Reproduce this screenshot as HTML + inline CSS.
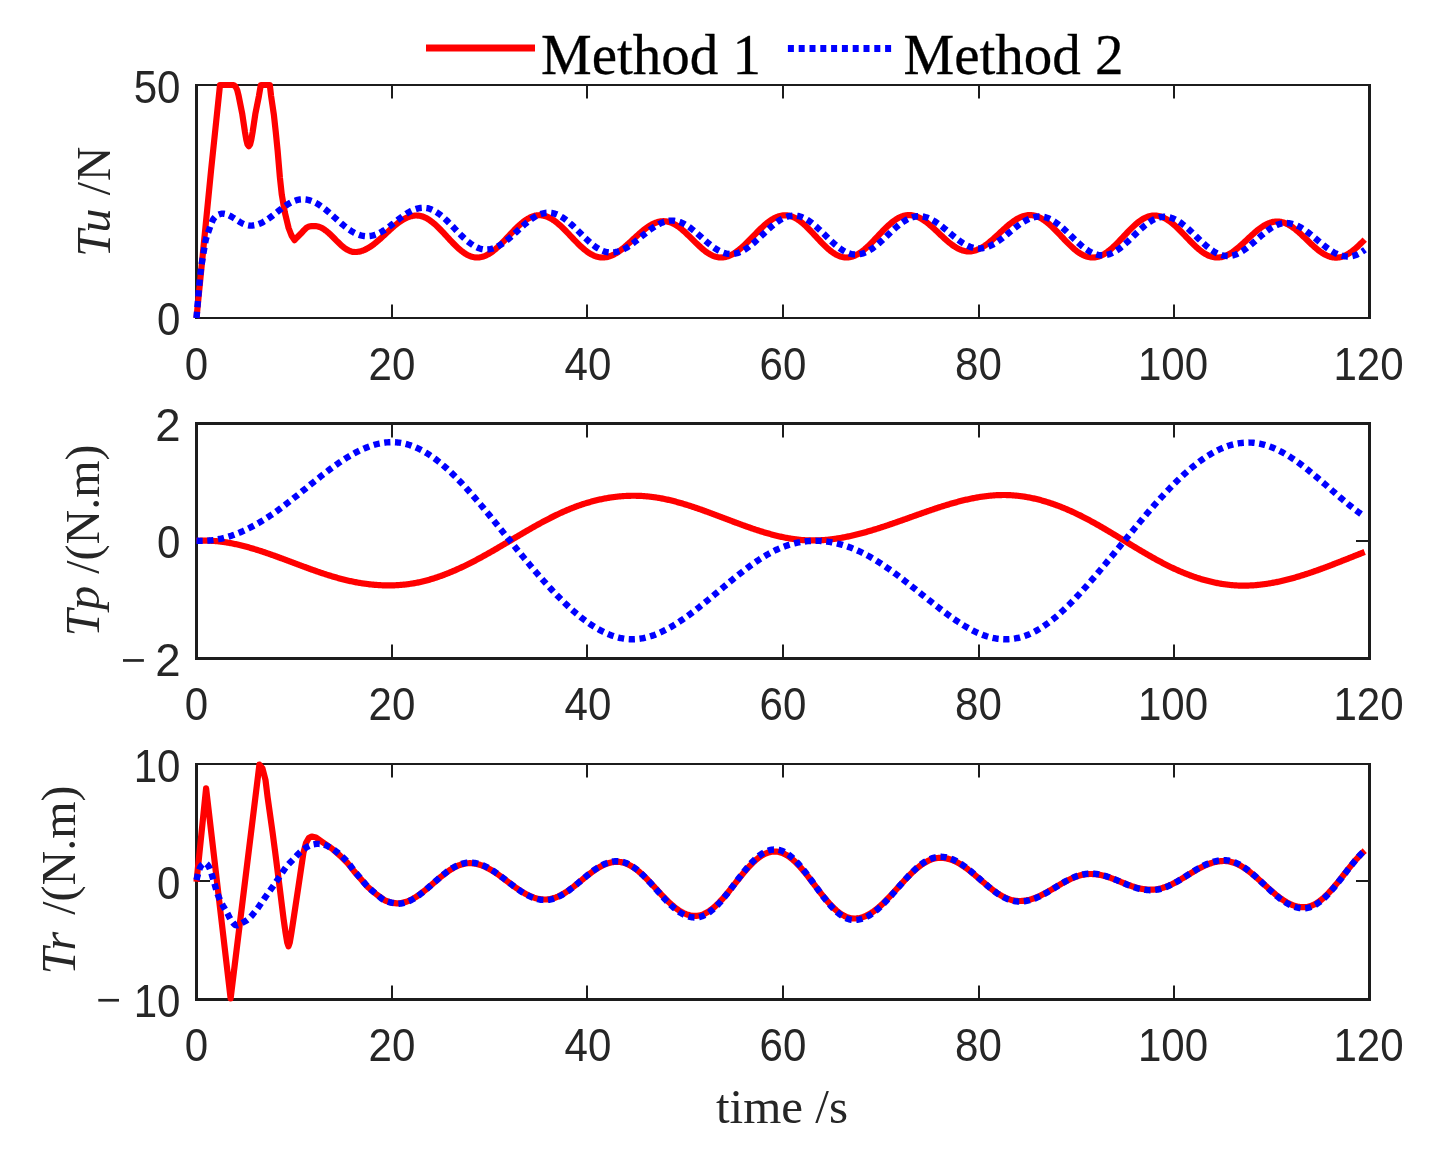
<!DOCTYPE html><html><head><meta charset="utf-8"><style>html,body{margin:0;padding:0;background:#fff;width:1440px;height:1149px;overflow:hidden}svg{display:block;will-change:transform}</style></head><body><svg width="1440" height="1149" viewBox="0 0 1440 1149"><rect width="1440" height="1149" fill="#fff"/><rect x="195" y="84" width="1176" height="2" fill="#1c1c1c"/><rect x="195" y="317" width="1176" height="2" fill="#1c1c1c"/><rect x="195" y="84" width="3" height="235" fill="#1c1c1c"/><rect x="1368" y="84" width="3" height="235" fill="#1c1c1c"/><rect x="391" y="84" width="2" height="14.5" fill="#1c1c1c"/><rect x="391" y="304.5" width="2" height="14.5" fill="#1c1c1c"/><rect x="586" y="84" width="2" height="14.5" fill="#1c1c1c"/><rect x="586" y="304.5" width="2" height="14.5" fill="#1c1c1c"/><rect x="782" y="84" width="2" height="14.5" fill="#1c1c1c"/><rect x="782" y="304.5" width="2" height="14.5" fill="#1c1c1c"/><rect x="978" y="84" width="2" height="14.5" fill="#1c1c1c"/><rect x="978" y="304.5" width="2" height="14.5" fill="#1c1c1c"/><rect x="1173" y="84" width="2" height="14.5" fill="#1c1c1c"/><rect x="1173" y="304.5" width="2" height="14.5" fill="#1c1c1c"/><rect x="195" y="422" width="1176" height="3" fill="#1c1c1c"/><rect x="195" y="657" width="1176" height="3" fill="#1c1c1c"/><rect x="195" y="422" width="3" height="238" fill="#1c1c1c"/><rect x="1368" y="422" width="3" height="238" fill="#1c1c1c"/><rect x="391" y="422" width="2" height="15.5" fill="#1c1c1c"/><rect x="391" y="644.5" width="2" height="15.5" fill="#1c1c1c"/><rect x="586" y="422" width="2" height="15.5" fill="#1c1c1c"/><rect x="586" y="644.5" width="2" height="15.5" fill="#1c1c1c"/><rect x="782" y="422" width="2" height="15.5" fill="#1c1c1c"/><rect x="782" y="644.5" width="2" height="15.5" fill="#1c1c1c"/><rect x="978" y="422" width="2" height="15.5" fill="#1c1c1c"/><rect x="978" y="644.5" width="2" height="15.5" fill="#1c1c1c"/><rect x="1173" y="422" width="2" height="15.5" fill="#1c1c1c"/><rect x="1173" y="644.5" width="2" height="15.5" fill="#1c1c1c"/><rect x="195" y="540" width="15" height="2" fill="#1c1c1c"/><rect x="1356" y="540" width="15" height="2" fill="#1c1c1c"/><rect x="195" y="763" width="1176" height="2" fill="#1c1c1c"/><rect x="195" y="998" width="1176" height="3" fill="#1c1c1c"/><rect x="195" y="763" width="3" height="238" fill="#1c1c1c"/><rect x="1368" y="763" width="3" height="238" fill="#1c1c1c"/><rect x="391" y="763" width="2" height="14.5" fill="#1c1c1c"/><rect x="391" y="985.5" width="2" height="15.5" fill="#1c1c1c"/><rect x="586" y="763" width="2" height="14.5" fill="#1c1c1c"/><rect x="586" y="985.5" width="2" height="15.5" fill="#1c1c1c"/><rect x="782" y="763" width="2" height="14.5" fill="#1c1c1c"/><rect x="782" y="985.5" width="2" height="15.5" fill="#1c1c1c"/><rect x="978" y="763" width="2" height="14.5" fill="#1c1c1c"/><rect x="978" y="985.5" width="2" height="15.5" fill="#1c1c1c"/><rect x="1173" y="763" width="2" height="14.5" fill="#1c1c1c"/><rect x="1173" y="985.5" width="2" height="15.5" fill="#1c1c1c"/><rect x="195" y="880" width="15" height="2" fill="#1c1c1c"/><rect x="1356" y="880" width="15" height="2" fill="#1c1c1c"/><path d="M196.50 318.00 L211.10 170.00 L220.00 85.00 L233.50 85.00 L235.50 86.50 L237.20 90.00 L238.70 96.10 L242.30 114.20 L245.00 132.30 L246.30 139.80 L247.50 144.50 L248.80 146.30 L250.10 144.50 L251.30 139.80 L252.60 132.30 L255.30 114.20 L258.90 96.10 L260.80 85.00 L269.80 85.00 L271.10 96.10 L273.80 114.20 L275.80 132.30 L277.60 150.40 L279.90 177.50 L281.80 194.80 L284.80 212.20 L288.60 228.00 L291.50 235.50 L294.50 240.20 L297.00 237.50 L301.20 233.30 L304.00 230.20 L306.50 227.80 L309.00 226.50 L311.50 226.10 L314.80 226.10 L315.81 226.14 L316.81 226.26 L317.81 226.46 L318.82 226.73 L319.82 227.09 L320.83 227.51 L321.84 228.01 L322.84 228.57 L323.85 229.20 L324.85 229.89 L325.86 230.64 L326.86 231.44 L327.87 232.28 L328.87 233.17 L329.88 234.09 L330.88 235.05 L331.88 236.03 L332.89 237.02 L333.89 238.03 L334.90 239.05 L335.91 240.07 L336.91 241.08 L337.92 242.07 L338.92 243.05 L339.93 244.01 L340.93 244.93 L341.94 245.82 L342.94 246.66 L343.94 247.46 L344.95 248.21 L345.95 248.90 L346.96 249.53 L347.97 250.09 L348.97 250.59 L349.98 251.01 L350.98 251.37 L351.99 251.64 L352.99 251.84 L354.00 251.96 L355.00 252.00 L356.01 251.98 L357.02 251.90 L358.02 251.78 L359.03 251.61 L360.04 251.40 L361.05 251.14 L362.06 250.83 L363.07 250.47 L364.07 250.07 L365.08 249.63 L366.09 249.15 L367.10 248.62 L368.11 248.06 L369.11 247.46 L370.12 246.82 L371.13 246.15 L372.14 245.44 L373.15 244.70 L374.16 243.94 L375.16 243.14 L376.17 242.33 L377.18 241.49 L378.19 240.63 L379.20 239.75 L380.20 238.85 L381.21 237.94 L382.22 237.02 L383.23 236.09 L384.24 235.16 L385.25 234.22 L386.25 233.28 L387.26 232.34 L388.27 231.41 L389.28 230.48 L390.29 229.56 L391.30 228.65 L392.30 227.75 L393.31 226.87 L394.32 226.01 L395.33 225.17 L396.34 224.36 L397.34 223.56 L398.35 222.80 L399.36 222.06 L400.37 221.35 L401.38 220.68 L402.39 220.04 L403.39 219.44 L404.40 218.88 L405.41 218.35 L406.42 217.87 L407.43 217.43 L408.43 217.03 L409.44 216.67 L410.45 216.36 L411.46 216.10 L412.47 215.89 L413.48 215.72 L414.48 215.60 L415.49 215.52 L416.50 215.50 L417.51 215.53 L418.52 215.62 L419.54 215.76 L420.55 215.96 L421.56 216.22 L422.57 216.53 L423.58 216.89 L424.59 217.32 L425.61 217.79 L426.62 218.31 L427.63 218.89 L428.64 219.51 L429.65 220.18 L430.66 220.89 L431.68 221.65 L432.69 222.45 L433.70 223.28 L434.71 224.16 L435.72 225.06 L436.73 226.00 L437.75 226.97 L438.76 227.96 L439.77 228.97 L440.78 230.01 L441.79 231.06 L442.80 232.13 L443.81 233.21 L444.83 234.30 L445.84 235.40 L446.85 236.50 L447.86 237.60 L448.87 238.70 L449.88 239.79 L450.90 240.87 L451.91 241.94 L452.92 242.99 L453.93 244.03 L454.94 245.04 L455.95 246.03 L456.97 247.00 L457.98 247.94 L458.99 248.84 L460.00 249.72 L461.01 250.55 L462.02 251.35 L463.04 252.11 L464.05 252.82 L465.06 253.49 L466.07 254.11 L467.08 254.69 L468.09 255.21 L469.11 255.68 L470.12 256.11 L471.13 256.47 L472.14 256.78 L473.15 257.04 L474.16 257.24 L475.18 257.38 L476.19 257.47 L477.20 257.50 L478.20 257.47 L479.21 257.39 L480.21 257.26 L481.22 257.07 L482.22 256.82 L483.23 256.53 L484.23 256.18 L485.24 255.79 L486.24 255.34 L487.25 254.84 L488.25 254.30 L489.26 253.71 L490.26 253.07 L491.27 252.40 L492.27 251.68 L493.28 250.92 L494.28 250.13 L495.29 249.30 L496.29 248.43 L497.30 247.54 L498.30 246.61 L499.31 245.66 L500.31 244.69 L501.32 243.70 L502.32 242.68 L503.33 241.65 L504.33 240.61 L505.34 239.55 L506.34 238.49 L507.35 237.42 L508.35 236.35 L509.35 235.28 L510.36 234.21 L511.36 233.15 L512.37 232.09 L513.37 231.05 L514.38 230.02 L515.38 229.00 L516.39 228.01 L517.39 227.04 L518.40 226.09 L519.40 225.16 L520.41 224.27 L521.41 223.40 L522.42 222.57 L523.42 221.78 L524.43 221.02 L525.43 220.30 L526.44 219.63 L527.44 218.99 L528.45 218.40 L529.45 217.86 L530.46 217.36 L531.46 216.91 L532.47 216.52 L533.47 216.17 L534.48 215.88 L535.48 215.63 L536.49 215.44 L537.49 215.31 L538.50 215.23 L539.50 215.20 L540.51 215.23 L541.53 215.31 L542.54 215.44 L543.56 215.63 L544.57 215.88 L545.59 216.17 L546.60 216.52 L547.62 216.91 L548.63 217.36 L549.65 217.86 L550.66 218.40 L551.67 218.99 L552.69 219.63 L553.70 220.30 L554.72 221.02 L555.73 221.78 L556.75 222.57 L557.76 223.40 L558.78 224.27 L559.79 225.16 L560.80 226.09 L561.82 227.04 L562.83 228.01 L563.85 229.00 L564.86 230.02 L565.88 231.05 L566.89 232.09 L567.91 233.15 L568.92 234.21 L569.94 235.28 L570.95 236.35 L571.96 237.42 L572.98 238.49 L573.99 239.55 L575.01 240.61 L576.02 241.65 L577.04 242.68 L578.05 243.70 L579.07 244.69 L580.08 245.66 L581.10 246.61 L582.11 247.54 L583.12 248.43 L584.14 249.30 L585.15 250.13 L586.17 250.92 L587.18 251.68 L588.20 252.40 L589.21 253.07 L590.23 253.71 L591.24 254.30 L592.25 254.84 L593.27 255.34 L594.28 255.79 L595.30 256.18 L596.31 256.53 L597.33 256.82 L598.34 257.07 L599.36 257.26 L600.37 257.39 L601.39 257.47 L602.40 257.50 L603.41 257.48 L604.41 257.40 L605.42 257.28 L606.43 257.12 L607.43 256.90 L608.44 256.64 L609.45 256.33 L610.45 255.98 L611.46 255.58 L612.47 255.15 L613.47 254.66 L614.48 254.14 L615.49 253.58 L616.49 252.98 L617.50 252.35 L618.50 251.68 L619.51 250.98 L620.52 250.24 L621.52 249.48 L622.53 248.69 L623.54 247.88 L624.54 247.04 L625.55 246.19 L626.56 245.31 L627.56 244.42 L628.57 243.52 L629.58 242.60 L630.58 241.68 L631.59 240.75 L632.60 239.82 L633.60 238.88 L634.61 237.95 L635.62 237.02 L636.62 236.10 L637.63 235.18 L638.64 234.28 L639.64 233.39 L640.65 232.51 L641.66 231.66 L642.66 230.82 L643.67 230.01 L644.68 229.22 L645.68 228.46 L646.69 227.72 L647.70 227.02 L648.70 226.35 L649.71 225.72 L650.71 225.12 L651.72 224.56 L652.73 224.04 L653.73 223.55 L654.74 223.12 L655.75 222.72 L656.75 222.37 L657.76 222.06 L658.77 221.80 L659.77 221.58 L660.78 221.42 L661.79 221.30 L662.79 221.22 L663.80 221.20 L664.80 221.23 L665.81 221.31 L666.81 221.45 L667.81 221.64 L668.82 221.88 L669.82 222.18 L670.82 222.53 L671.83 222.94 L672.83 223.39 L673.84 223.89 L674.84 224.43 L675.84 225.03 L676.85 225.66 L677.85 226.34 L678.85 227.06 L679.86 227.81 L680.86 228.60 L681.86 229.42 L682.87 230.27 L683.87 231.15 L684.87 232.06 L685.88 232.99 L686.88 233.93 L687.88 234.89 L688.89 235.87 L689.89 236.86 L690.89 237.85 L691.90 238.85 L692.90 239.85 L693.91 240.85 L694.91 241.84 L695.91 242.83 L696.92 243.81 L697.92 244.77 L698.92 245.71 L699.93 246.64 L700.93 247.55 L701.93 248.42 L702.94 249.28 L703.94 250.10 L704.94 250.89 L705.95 251.64 L706.95 252.36 L707.95 253.04 L708.96 253.67 L709.96 254.27 L710.96 254.81 L711.97 255.31 L712.97 255.76 L713.98 256.17 L714.98 256.52 L715.98 256.82 L716.99 257.06 L717.99 257.25 L718.99 257.39 L720.00 257.47 L721.00 257.50 L722.00 257.47 L723.00 257.40 L724.00 257.27 L725.01 257.09 L726.01 256.87 L727.01 256.59 L728.01 256.27 L729.01 255.89 L730.01 255.47 L731.02 255.01 L732.02 254.50 L733.02 253.94 L734.02 253.35 L735.02 252.71 L736.02 252.03 L737.02 251.32 L738.03 250.57 L739.03 249.79 L740.03 248.97 L741.03 248.12 L742.03 247.25 L743.03 246.35 L744.04 245.42 L745.04 244.47 L746.04 243.51 L747.04 242.53 L748.04 241.53 L749.04 240.52 L750.05 239.50 L751.05 238.47 L752.05 237.44 L753.05 236.40 L754.05 235.36 L755.05 234.33 L756.05 233.30 L757.06 232.28 L758.06 231.27 L759.06 230.27 L760.06 229.29 L761.06 228.33 L762.06 227.38 L763.07 226.45 L764.07 225.55 L765.07 224.68 L766.07 223.83 L767.07 223.01 L768.07 222.23 L769.08 221.48 L770.08 220.77 L771.08 220.09 L772.08 219.45 L773.08 218.86 L774.08 218.30 L775.08 217.79 L776.09 217.33 L777.09 216.91 L778.09 216.53 L779.09 216.21 L780.09 215.93 L781.09 215.71 L782.10 215.53 L783.10 215.40 L784.10 215.33 L785.10 215.30 L786.11 215.33 L787.11 215.41 L788.12 215.55 L789.13 215.75 L790.13 216.00 L791.14 216.30 L792.15 216.66 L793.15 217.07 L794.16 217.53 L795.17 218.04 L796.17 218.60 L797.18 219.20 L798.19 219.86 L799.19 220.55 L800.20 221.29 L801.20 222.07 L802.21 222.88 L803.22 223.74 L804.22 224.62 L805.23 225.54 L806.24 226.48 L807.24 227.46 L808.25 228.45 L809.26 229.47 L810.26 230.50 L811.27 231.55 L812.28 232.62 L813.28 233.69 L814.29 234.77 L815.30 235.86 L816.30 236.94 L817.31 238.03 L818.32 239.11 L819.32 240.18 L820.33 241.25 L821.34 242.30 L822.34 243.33 L823.35 244.35 L824.36 245.34 L825.36 246.32 L826.37 247.26 L827.38 248.18 L828.38 249.06 L829.39 249.92 L830.40 250.73 L831.40 251.51 L832.41 252.25 L833.41 252.94 L834.42 253.60 L835.43 254.20 L836.43 254.76 L837.44 255.27 L838.45 255.73 L839.45 256.14 L840.46 256.50 L841.47 256.80 L842.47 257.05 L843.48 257.25 L844.49 257.39 L845.49 257.47 L846.50 257.50 L847.51 257.47 L848.51 257.39 L849.52 257.26 L850.53 257.07 L851.53 256.82 L852.54 256.53 L853.55 256.18 L854.55 255.78 L855.56 255.33 L856.56 254.84 L857.57 254.29 L858.58 253.70 L859.58 253.06 L860.59 252.39 L861.60 251.67 L862.60 250.91 L863.61 250.11 L864.62 249.28 L865.62 248.41 L866.63 247.51 L867.64 246.59 L868.64 245.64 L869.65 244.66 L870.65 243.66 L871.66 242.65 L872.67 241.61 L873.67 240.57 L874.68 239.51 L875.69 238.44 L876.69 237.37 L877.70 236.30 L878.71 235.23 L879.71 234.16 L880.72 233.09 L881.73 232.03 L882.73 230.99 L883.74 229.95 L884.75 228.94 L885.75 227.94 L886.76 226.96 L887.76 226.01 L888.77 225.09 L889.78 224.19 L890.78 223.32 L891.79 222.49 L892.80 221.69 L893.80 220.93 L894.81 220.21 L895.82 219.54 L896.82 218.90 L897.83 218.31 L898.84 217.76 L899.84 217.27 L900.85 216.82 L901.85 216.42 L902.86 216.07 L903.87 215.78 L904.87 215.53 L905.88 215.34 L906.89 215.21 L907.89 215.13 L908.90 215.10 L909.90 215.12 L910.90 215.20 L911.90 215.32 L912.90 215.50 L913.90 215.72 L914.90 215.99 L915.90 216.31 L916.90 216.67 L917.90 217.08 L918.90 217.53 L919.90 218.03 L920.90 218.57 L921.90 219.14 L922.90 219.76 L923.90 220.42 L924.90 221.11 L925.90 221.83 L926.90 222.58 L927.90 223.36 L928.90 224.17 L929.90 225.01 L930.90 225.87 L931.90 226.75 L932.90 227.64 L933.90 228.55 L934.90 229.48 L935.90 230.41 L936.90 231.35 L937.90 232.30 L938.90 233.25 L939.90 234.20 L940.90 235.15 L941.90 236.09 L942.90 237.02 L943.90 237.95 L944.90 238.86 L945.90 239.75 L946.90 240.63 L947.90 241.49 L948.90 242.32 L949.90 243.14 L950.90 243.92 L951.90 244.67 L952.90 245.39 L953.90 246.08 L954.90 246.74 L955.90 247.36 L956.90 247.93 L957.90 248.47 L958.90 248.97 L959.90 249.42 L960.90 249.83 L961.90 250.19 L962.90 250.51 L963.90 250.78 L964.90 251.00 L965.90 251.18 L966.90 251.30 L967.90 251.38 L968.90 251.40 L969.90 251.38 L970.90 251.30 L971.90 251.18 L972.91 251.02 L973.91 250.80 L974.91 250.54 L975.91 250.23 L976.91 249.88 L977.91 249.48 L978.92 249.05 L979.92 248.56 L980.92 248.04 L981.92 247.48 L982.92 246.88 L983.92 246.25 L984.93 245.58 L985.93 244.88 L986.93 244.14 L987.93 243.38 L988.93 242.59 L989.93 241.78 L990.94 240.94 L991.94 240.09 L992.94 239.21 L993.94 238.32 L994.94 237.42 L995.94 236.50 L996.95 235.58 L997.95 234.65 L998.95 233.72 L999.95 232.78 L1000.95 231.85 L1001.95 230.92 L1002.96 230.00 L1003.96 229.08 L1004.96 228.18 L1005.96 227.29 L1006.96 226.41 L1007.96 225.56 L1008.97 224.72 L1009.97 223.91 L1010.97 223.12 L1011.97 222.36 L1012.97 221.62 L1013.97 220.92 L1014.98 220.25 L1015.98 219.62 L1016.98 219.02 L1017.98 218.46 L1018.98 217.94 L1019.98 217.45 L1020.99 217.02 L1021.99 216.62 L1022.99 216.27 L1023.99 215.96 L1024.99 215.70 L1025.99 215.48 L1027.00 215.32 L1028.00 215.20 L1029.00 215.12 L1030.00 215.10 L1031.01 215.13 L1032.02 215.21 L1033.03 215.34 L1034.05 215.53 L1035.06 215.78 L1036.07 216.07 L1037.08 216.42 L1038.09 216.82 L1039.10 217.27 L1040.11 217.76 L1041.12 218.31 L1042.14 218.90 L1043.15 219.54 L1044.16 220.21 L1045.17 220.93 L1046.18 221.69 L1047.19 222.49 L1048.20 223.32 L1049.21 224.19 L1050.23 225.09 L1051.24 226.01 L1052.25 226.96 L1053.26 227.94 L1054.27 228.94 L1055.28 229.95 L1056.29 230.99 L1057.30 232.03 L1058.32 233.09 L1059.33 234.16 L1060.34 235.23 L1061.35 236.30 L1062.36 237.37 L1063.37 238.44 L1064.38 239.51 L1065.40 240.57 L1066.41 241.61 L1067.42 242.65 L1068.43 243.66 L1069.44 244.66 L1070.45 245.64 L1071.46 246.59 L1072.47 247.51 L1073.49 248.41 L1074.50 249.28 L1075.51 250.11 L1076.52 250.91 L1077.53 251.67 L1078.54 252.39 L1079.55 253.06 L1080.56 253.70 L1081.58 254.29 L1082.59 254.84 L1083.60 255.33 L1084.61 255.78 L1085.62 256.18 L1086.63 256.53 L1087.64 256.82 L1088.65 257.07 L1089.67 257.26 L1090.68 257.39 L1091.69 257.47 L1092.70 257.50 L1093.71 257.47 L1094.72 257.39 L1095.73 257.25 L1096.75 257.06 L1097.76 256.81 L1098.77 256.51 L1099.78 256.15 L1100.79 255.74 L1101.80 255.28 L1102.81 254.78 L1103.83 254.22 L1104.84 253.62 L1105.85 252.97 L1106.86 252.27 L1107.87 251.54 L1108.88 250.76 L1109.90 249.95 L1110.91 249.10 L1111.92 248.22 L1112.93 247.31 L1113.94 246.37 L1114.95 245.40 L1115.96 244.41 L1116.98 243.40 L1117.99 242.37 L1119.00 241.32 L1120.01 240.26 L1121.02 239.20 L1122.03 238.12 L1123.04 237.04 L1124.06 235.96 L1125.07 234.88 L1126.08 233.80 L1127.09 232.74 L1128.10 231.68 L1129.11 230.63 L1130.12 229.60 L1131.14 228.59 L1132.15 227.60 L1133.16 226.63 L1134.17 225.69 L1135.18 224.78 L1136.19 223.90 L1137.20 223.05 L1138.22 222.24 L1139.23 221.46 L1140.24 220.73 L1141.25 220.03 L1142.26 219.38 L1143.27 218.78 L1144.29 218.22 L1145.30 217.72 L1146.31 217.26 L1147.32 216.85 L1148.33 216.49 L1149.34 216.19 L1150.35 215.94 L1151.37 215.75 L1152.38 215.61 L1153.39 215.53 L1154.40 215.50 L1155.41 215.53 L1156.43 215.61 L1157.44 215.74 L1158.45 215.93 L1159.46 216.17 L1160.48 216.46 L1161.49 216.81 L1162.50 217.20 L1163.52 217.65 L1164.53 218.14 L1165.54 218.68 L1166.55 219.26 L1167.57 219.89 L1168.58 220.57 L1169.59 221.28 L1170.61 222.03 L1171.62 222.82 L1172.63 223.65 L1173.65 224.50 L1174.66 225.39 L1175.67 226.31 L1176.68 227.25 L1177.70 228.22 L1178.71 229.21 L1179.72 230.21 L1180.74 231.24 L1181.75 232.27 L1182.76 233.32 L1183.77 234.38 L1184.79 235.44 L1185.80 236.50 L1186.81 237.56 L1187.83 238.62 L1188.84 239.68 L1189.85 240.73 L1190.86 241.76 L1191.88 242.79 L1192.89 243.79 L1193.90 244.78 L1194.92 245.75 L1195.93 246.69 L1196.94 247.61 L1197.95 248.50 L1198.97 249.35 L1199.98 250.18 L1200.99 250.97 L1202.01 251.72 L1203.02 252.43 L1204.03 253.11 L1205.05 253.74 L1206.06 254.32 L1207.07 254.86 L1208.08 255.35 L1209.10 255.80 L1210.11 256.19 L1211.12 256.54 L1212.14 256.83 L1213.15 257.07 L1214.16 257.26 L1215.17 257.39 L1216.19 257.47 L1217.20 257.50 L1218.20 257.48 L1219.20 257.40 L1220.20 257.28 L1221.20 257.11 L1222.20 256.89 L1223.20 256.62 L1224.20 256.30 L1225.20 255.94 L1226.20 255.54 L1227.20 255.09 L1228.20 254.60 L1229.20 254.06 L1230.20 253.49 L1231.20 252.88 L1232.20 252.23 L1233.20 251.54 L1234.20 250.83 L1235.20 250.08 L1236.20 249.30 L1237.20 248.50 L1238.20 247.67 L1239.20 246.82 L1240.20 245.95 L1241.20 245.06 L1242.20 244.16 L1243.20 243.24 L1244.20 242.32 L1245.20 241.38 L1246.20 240.44 L1247.20 239.50 L1248.20 238.56 L1249.20 237.62 L1250.20 236.68 L1251.20 235.76 L1252.20 234.84 L1253.20 233.94 L1254.20 233.05 L1255.20 232.18 L1256.20 231.33 L1257.20 230.50 L1258.20 229.70 L1259.20 228.92 L1260.20 228.17 L1261.20 227.46 L1262.20 226.77 L1263.20 226.12 L1264.20 225.51 L1265.20 224.94 L1266.20 224.40 L1267.20 223.91 L1268.20 223.46 L1269.20 223.06 L1270.20 222.70 L1271.20 222.38 L1272.20 222.11 L1273.20 221.89 L1274.20 221.72 L1275.20 221.60 L1276.20 221.52 L1277.20 221.50 L1278.21 221.53 L1279.23 221.61 L1280.24 221.74 L1281.26 221.92 L1282.27 222.16 L1283.28 222.44 L1284.30 222.78 L1285.31 223.17 L1286.32 223.60 L1287.34 224.08 L1288.35 224.61 L1289.37 225.18 L1290.38 225.79 L1291.39 226.45 L1292.41 227.14 L1293.42 227.86 L1294.43 228.63 L1295.45 229.42 L1296.46 230.24 L1297.48 231.10 L1298.49 231.97 L1299.50 232.87 L1300.52 233.79 L1301.53 234.72 L1302.54 235.67 L1303.56 236.63 L1304.57 237.60 L1305.59 238.57 L1306.60 239.55 L1307.61 240.53 L1308.63 241.50 L1309.64 242.47 L1310.66 243.43 L1311.67 244.38 L1312.68 245.31 L1313.70 246.23 L1314.71 247.13 L1315.72 248.00 L1316.74 248.86 L1317.75 249.68 L1318.77 250.47 L1319.78 251.24 L1320.79 251.96 L1321.81 252.65 L1322.82 253.31 L1323.83 253.92 L1324.85 254.49 L1325.86 255.02 L1326.88 255.50 L1327.89 255.93 L1328.90 256.32 L1329.92 256.66 L1330.93 256.94 L1331.94 257.18 L1332.96 257.36 L1333.97 257.49 L1334.99 257.57 L1336.00 257.60 L1337.00 257.57 L1338.00 257.50 L1339.00 257.36 L1340.00 257.18 L1341.00 256.95 L1342.00 256.66 L1343.00 256.33 L1344.00 255.94 L1345.00 255.51 L1346.00 255.03 L1347.00 254.51 L1348.00 253.94 L1349.00 253.33 L1350.00 252.67 L1351.00 251.98 L1352.00 251.25 L1353.00 250.48 L1354.00 249.68 L1355.00 248.85 L1356.00 247.99 L1357.00 247.11 L1358.00 246.19 L1359.00 245.26 L1360.00 244.31 L1361.00 243.33 L1362.00 242.35 L1363.00 241.35 L1364.00 240.34 L1364.70 239.63" fill="none" stroke="#ff0000" stroke-width="6.2" stroke-linejoin="round" stroke-miterlimit="4" stroke-linecap="butt"/><path d="M196.50 318.00 L196.73 315.22 L197.05 311.34 L197.43 306.77 L197.83 301.90 L198.23 297.14 L198.60 292.90 L198.92 289.15 L199.23 285.57 L199.53 282.11 L199.84 278.69 L200.19 275.28 L200.60 271.80 L201.09 268.16 L201.65 264.37 L202.25 260.58 L202.85 256.93 L203.41 253.56 L203.90 250.60 L204.29 248.14 L204.61 246.08 L204.90 244.29 L205.19 242.67 L205.51 241.08 L205.90 239.40 L206.37 237.67 L206.88 236.00 L207.43 234.37 L208.01 232.75 L208.60 231.13 L209.20 229.50 L209.82 227.78 L210.46 225.99 L211.11 224.19 L211.78 222.47 L212.44 220.91 L213.10 219.60 L213.74 218.56 L214.37 217.72 L215.00 217.05 L215.64 216.49 L216.30 215.99 L217.00 215.50 L217.79 215.03 L218.68 214.63 L219.59 214.29 L220.45 214.01 L221.18 213.78 L221.70 213.60 L222.73 213.64 L223.76 213.75 L224.79 213.94 L225.81 214.19 L226.84 214.52 L227.87 214.91 L228.90 215.36 L229.93 215.86 L230.96 216.41 L231.99 217.00 L233.01 217.62 L234.04 218.26 L235.07 218.93 L236.10 219.60 L237.13 220.27 L238.16 220.94 L239.19 221.58 L240.21 222.20 L241.24 222.79 L242.27 223.34 L243.30 223.84 L244.33 224.29 L245.36 224.68 L246.39 225.01 L247.41 225.26 L248.44 225.45 L249.47 225.56 L250.50 225.60 L251.51 225.58 L252.51 225.50 L253.52 225.38 L254.52 225.22 L255.53 225.00 L256.53 224.75 L257.54 224.44 L258.55 224.09 L259.55 223.70 L260.56 223.27 L261.56 222.80 L262.57 222.29 L263.57 221.75 L264.58 221.17 L265.59 220.56 L266.59 219.92 L267.60 219.25 L268.60 218.56 L269.61 217.85 L270.62 217.11 L271.62 216.36 L272.63 215.60 L273.63 214.82 L274.64 214.04 L275.64 213.24 L276.65 212.45 L277.66 211.66 L278.66 210.86 L279.67 210.08 L280.67 209.30 L281.68 208.54 L282.68 207.79 L283.69 207.05 L284.70 206.34 L285.70 205.65 L286.71 204.98 L287.71 204.34 L288.72 203.73 L289.73 203.15 L290.73 202.61 L291.74 202.10 L292.74 201.63 L293.75 201.20 L294.75 200.81 L295.76 200.46 L296.77 200.15 L297.77 199.90 L298.78 199.68 L299.78 199.52 L300.79 199.40 L301.79 199.32 L302.80 199.30 L303.80 199.32 L304.81 199.39 L305.81 199.50 L306.81 199.65 L307.82 199.85 L308.82 200.09 L309.82 200.38 L310.82 200.70 L311.83 201.07 L312.83 201.48 L313.83 201.92 L314.84 202.41 L315.84 202.93 L316.84 203.49 L317.85 204.08 L318.85 204.70 L319.85 205.36 L320.86 206.05 L321.86 206.76 L322.86 207.50 L323.87 208.26 L324.87 209.05 L325.87 209.86 L326.88 210.69 L327.88 211.53 L328.88 212.39 L329.88 213.27 L330.89 214.15 L331.89 215.04 L332.89 215.94 L333.90 216.84 L334.90 217.75 L335.90 218.66 L336.91 219.56 L337.91 220.46 L338.91 221.35 L339.92 222.23 L340.92 223.11 L341.92 223.97 L342.93 224.81 L343.93 225.64 L344.93 226.45 L345.93 227.24 L346.94 228.00 L347.94 228.74 L348.94 229.45 L349.95 230.14 L350.95 230.80 L351.95 231.42 L352.96 232.01 L353.96 232.57 L354.96 233.09 L355.97 233.58 L356.97 234.02 L357.97 234.43 L358.98 234.80 L359.98 235.12 L360.98 235.41 L361.98 235.65 L362.99 235.85 L363.99 236.00 L364.99 236.11 L366.00 236.18 L367.00 236.20 L368.01 236.18 L369.01 236.11 L370.02 236.00 L371.03 235.84 L372.04 235.65 L373.04 235.40 L374.05 235.12 L375.06 234.79 L376.06 234.43 L377.07 234.02 L378.08 233.58 L379.09 233.10 L380.09 232.59 L381.10 232.04 L382.11 231.46 L383.11 230.85 L384.12 230.22 L385.13 229.55 L386.14 228.87 L387.14 228.16 L388.15 227.43 L389.16 226.69 L390.16 225.93 L391.17 225.16 L392.18 224.38 L393.19 223.59 L394.19 222.80 L395.20 222.00 L396.21 221.20 L397.21 220.41 L398.22 219.62 L399.23 218.84 L400.24 218.07 L401.24 217.31 L402.25 216.57 L403.26 215.84 L404.26 215.13 L405.27 214.45 L406.28 213.78 L407.29 213.15 L408.29 212.54 L409.30 211.96 L410.31 211.41 L411.31 210.90 L412.32 210.42 L413.33 209.98 L414.34 209.57 L415.34 209.21 L416.35 208.88 L417.36 208.60 L418.36 208.35 L419.37 208.16 L420.38 208.00 L421.39 207.89 L422.39 207.82 L423.40 207.80 L424.41 207.83 L425.42 207.91 L426.43 208.04 L427.44 208.23 L428.45 208.47 L429.46 208.76 L430.47 209.10 L431.48 209.49 L432.49 209.93 L433.50 210.42 L434.51 210.96 L435.52 211.54 L436.53 212.16 L437.54 212.83 L438.55 213.54 L439.55 214.29 L440.56 215.07 L441.57 215.89 L442.58 216.74 L443.59 217.62 L444.60 218.53 L445.61 219.47 L446.62 220.43 L447.63 221.41 L448.64 222.41 L449.65 223.42 L450.66 224.45 L451.67 225.49 L452.68 226.54 L453.69 227.59 L454.70 228.65 L455.71 229.71 L456.72 230.76 L457.73 231.81 L458.74 232.85 L459.75 233.88 L460.76 234.89 L461.77 235.89 L462.78 236.87 L463.79 237.83 L464.80 238.77 L465.81 239.68 L466.82 240.56 L467.83 241.41 L468.84 242.23 L469.85 243.01 L470.85 243.76 L471.86 244.47 L472.87 245.14 L473.88 245.76 L474.89 246.34 L475.90 246.88 L476.91 247.37 L477.92 247.81 L478.93 248.20 L479.94 248.54 L480.95 248.83 L481.96 249.07 L482.97 249.26 L483.98 249.39 L484.99 249.47 L486.00 249.50 L487.01 249.48 L488.02 249.41 L489.02 249.29 L490.03 249.12 L491.04 248.91 L492.05 248.66 L493.06 248.35 L494.06 248.01 L495.07 247.62 L496.08 247.19 L497.09 246.72 L498.10 246.20 L499.10 245.65 L500.11 245.06 L501.12 244.44 L502.13 243.78 L503.14 243.09 L504.15 242.36 L505.15 241.61 L506.16 240.83 L507.17 240.03 L508.18 239.20 L509.19 238.36 L510.19 237.49 L511.20 236.61 L512.21 235.71 L513.22 234.80 L514.23 233.89 L515.23 232.96 L516.24 232.03 L517.25 231.10 L518.26 230.17 L519.27 229.24 L520.27 228.31 L521.28 227.40 L522.29 226.49 L523.30 225.59 L524.31 224.71 L525.31 223.84 L526.32 223.00 L527.33 222.17 L528.34 221.37 L529.35 220.59 L530.35 219.84 L531.36 219.11 L532.37 218.42 L533.38 217.76 L534.39 217.14 L535.40 216.55 L536.40 216.00 L537.41 215.48 L538.42 215.01 L539.43 214.58 L540.44 214.19 L541.44 213.85 L542.45 213.54 L543.46 213.29 L544.47 213.08 L545.48 212.91 L546.48 212.79 L547.49 212.72 L548.50 212.70 L549.51 212.73 L550.52 212.80 L551.52 212.93 L552.53 213.11 L553.54 213.34 L554.55 213.61 L555.56 213.94 L556.56 214.31 L557.57 214.73 L558.58 215.20 L559.59 215.71 L560.60 216.27 L561.60 216.86 L562.61 217.50 L563.62 218.18 L564.63 218.89 L565.64 219.64 L566.65 220.42 L567.65 221.23 L568.66 222.07 L569.67 222.94 L570.68 223.84 L571.69 224.75 L572.69 225.69 L573.70 226.64 L574.71 227.61 L575.72 228.59 L576.73 229.59 L577.73 230.59 L578.74 231.59 L579.75 232.60 L580.76 233.61 L581.77 234.61 L582.77 235.61 L583.78 236.61 L584.79 237.59 L585.80 238.56 L586.81 239.51 L587.81 240.45 L588.82 241.36 L589.83 242.26 L590.84 243.13 L591.85 243.97 L592.85 244.78 L593.86 245.56 L594.87 246.31 L595.88 247.02 L596.89 247.70 L597.90 248.34 L598.90 248.93 L599.91 249.49 L600.92 250.00 L601.93 250.47 L602.94 250.89 L603.94 251.26 L604.95 251.59 L605.96 251.86 L606.97 252.09 L607.98 252.27 L608.98 252.40 L609.99 252.47 L611.00 252.50 L612.00 252.48 L613.00 252.42 L614.00 252.31 L615.00 252.16 L616.00 251.97 L617.00 251.74 L618.00 251.47 L619.00 251.17 L620.00 250.82 L621.00 250.43 L622.00 250.01 L623.00 249.55 L624.00 249.06 L625.00 248.53 L626.00 247.97 L627.00 247.38 L628.00 246.77 L629.00 246.12 L630.00 245.45 L631.00 244.76 L632.00 244.05 L633.00 243.31 L634.00 242.56 L635.00 241.79 L636.00 241.01 L637.00 240.21 L638.00 239.41 L639.00 238.60 L640.00 237.78 L641.00 236.96 L642.00 236.14 L643.00 235.32 L644.00 234.50 L645.00 233.69 L646.00 232.89 L647.00 232.09 L648.00 231.31 L649.00 230.54 L650.00 229.79 L651.00 229.05 L652.00 228.34 L653.00 227.65 L654.00 226.98 L655.00 226.33 L656.00 225.72 L657.00 225.13 L658.00 224.57 L659.00 224.04 L660.00 223.55 L661.00 223.09 L662.00 222.67 L663.00 222.28 L664.00 221.93 L665.00 221.63 L666.00 221.36 L667.00 221.13 L668.00 220.94 L669.00 220.79 L670.00 220.68 L671.00 220.62 L672.00 220.60 L673.00 220.62 L674.00 220.69 L675.00 220.81 L676.00 220.98 L677.00 221.19 L678.00 221.45 L679.00 221.75 L680.00 222.09 L681.00 222.48 L682.00 222.91 L683.00 223.38 L684.00 223.89 L685.00 224.44 L686.00 225.03 L687.00 225.65 L688.00 226.30 L689.00 226.99 L690.00 227.70 L691.00 228.44 L692.00 229.21 L693.00 230.00 L694.00 230.81 L695.00 231.63 L696.00 232.48 L697.00 233.34 L698.00 234.21 L699.00 235.08 L700.00 235.97 L701.00 236.86 L702.00 237.74 L703.00 238.63 L704.00 239.52 L705.00 240.39 L706.00 241.26 L707.00 242.12 L708.00 242.97 L709.00 243.79 L710.00 244.60 L711.00 245.39 L712.00 246.16 L713.00 246.90 L714.00 247.61 L715.00 248.30 L716.00 248.95 L717.00 249.57 L718.00 250.16 L719.00 250.71 L720.00 251.22 L721.00 251.69 L722.00 252.12 L723.00 252.51 L724.00 252.85 L725.00 253.15 L726.00 253.41 L727.00 253.62 L728.00 253.79 L729.00 253.91 L730.00 253.98 L731.00 254.00 L732.00 253.98 L733.00 253.90 L734.00 253.79 L735.00 253.62 L736.00 253.41 L737.00 253.15 L738.00 252.84 L739.00 252.49 L740.00 252.10 L741.00 251.66 L742.00 251.18 L743.00 250.66 L744.00 250.10 L745.00 249.51 L746.00 248.87 L747.00 248.21 L748.00 247.50 L749.00 246.77 L750.00 246.01 L751.00 245.22 L752.00 244.40 L753.00 243.56 L754.00 242.70 L755.00 241.81 L756.00 240.91 L757.00 240.00 L758.00 239.07 L759.00 238.13 L760.00 237.19 L761.00 236.23 L762.00 235.28 L763.00 234.32 L764.00 233.37 L765.00 232.41 L766.00 231.47 L767.00 230.53 L768.00 229.60 L769.00 228.69 L770.00 227.79 L771.00 226.90 L772.00 226.04 L773.00 225.20 L774.00 224.38 L775.00 223.59 L776.00 222.83 L777.00 222.10 L778.00 221.39 L779.00 220.73 L780.00 220.09 L781.00 219.50 L782.00 218.94 L783.00 218.42 L784.00 217.94 L785.00 217.50 L786.00 217.11 L787.00 216.76 L788.00 216.45 L789.00 216.19 L790.00 215.98 L791.00 215.81 L792.00 215.70 L793.00 215.62 L794.00 215.60 L795.00 215.62 L796.00 215.70 L797.00 215.82 L798.00 216.00 L799.00 216.22 L800.00 216.49 L801.00 216.81 L802.00 217.18 L803.00 217.59 L804.00 218.04 L805.00 218.54 L806.00 219.09 L807.00 219.67 L808.00 220.29 L809.00 220.95 L810.00 221.65 L811.00 222.38 L812.00 223.14 L813.00 223.94 L814.00 224.76 L815.00 225.61 L816.00 226.48 L817.00 227.38 L818.00 228.29 L819.00 229.23 L820.00 230.17 L821.00 231.13 L822.00 232.10 L823.00 233.08 L824.00 234.06 L825.00 235.05 L826.00 236.04 L827.00 237.02 L828.00 238.00 L829.00 238.97 L830.00 239.93 L831.00 240.87 L832.00 241.81 L833.00 242.72 L834.00 243.62 L835.00 244.49 L836.00 245.34 L837.00 246.16 L838.00 246.96 L839.00 247.72 L840.00 248.45 L841.00 249.15 L842.00 249.81 L843.00 250.43 L844.00 251.01 L845.00 251.56 L846.00 252.06 L847.00 252.51 L848.00 252.92 L849.00 253.29 L850.00 253.61 L851.00 253.88 L852.00 254.10 L853.00 254.28 L854.00 254.40 L855.00 254.48 L856.00 254.50 L857.00 254.48 L858.00 254.40 L859.00 254.29 L860.00 254.12 L861.00 253.91 L862.00 253.65 L863.00 253.35 L864.00 253.00 L865.00 252.60 L866.00 252.17 L867.00 251.69 L868.00 251.17 L869.00 250.62 L870.00 250.02 L871.00 249.39 L872.00 248.72 L873.00 248.02 L874.00 247.29 L875.00 246.53 L876.00 245.74 L877.00 244.93 L878.00 244.09 L879.00 243.23 L880.00 242.35 L881.00 241.45 L882.00 240.54 L883.00 239.61 L884.00 238.68 L885.00 237.73 L886.00 236.78 L887.00 235.83 L888.00 234.87 L889.00 233.92 L890.00 232.97 L891.00 232.02 L892.00 231.09 L893.00 230.16 L894.00 229.25 L895.00 228.35 L896.00 227.47 L897.00 226.61 L898.00 225.78 L899.00 224.96 L900.00 224.17 L901.00 223.41 L902.00 222.68 L903.00 221.98 L904.00 221.31 L905.00 220.68 L906.00 220.08 L907.00 219.53 L908.00 219.01 L909.00 218.53 L910.00 218.10 L911.00 217.70 L912.00 217.35 L913.00 217.05 L914.00 216.79 L915.00 216.58 L916.00 216.41 L917.00 216.30 L918.00 216.22 L919.00 216.20 L920.00 216.22 L921.00 216.29 L922.00 216.40 L923.00 216.55 L924.00 216.75 L925.00 216.99 L926.00 217.27 L927.00 217.60 L928.00 217.96 L929.00 218.36 L930.00 218.81 L931.00 219.28 L932.00 219.80 L933.00 220.35 L934.00 220.93 L935.00 221.54 L936.00 222.19 L937.00 222.86 L938.00 223.55 L939.00 224.27 L940.00 225.02 L941.00 225.78 L942.00 226.56 L943.00 227.36 L944.00 228.17 L945.00 228.99 L946.00 229.82 L947.00 230.66 L948.00 231.50 L949.00 232.35 L950.00 233.20 L951.00 234.04 L952.00 234.88 L953.00 235.71 L954.00 236.53 L955.00 237.34 L956.00 238.14 L957.00 238.92 L958.00 239.68 L959.00 240.42 L960.00 241.15 L961.00 241.84 L962.00 242.51 L963.00 243.16 L964.00 243.77 L965.00 244.35 L966.00 244.90 L967.00 245.42 L968.00 245.89 L969.00 246.34 L970.00 246.74 L971.00 247.10 L972.00 247.43 L973.00 247.71 L974.00 247.95 L975.00 248.15 L976.00 248.30 L977.00 248.41 L978.00 248.48 L979.00 248.50 L980.01 248.48 L981.02 248.41 L982.03 248.30 L983.05 248.15 L984.06 247.95 L985.07 247.72 L986.08 247.44 L987.09 247.12 L988.11 246.76 L989.12 246.36 L990.13 245.92 L991.14 245.44 L992.15 244.93 L993.16 244.39 L994.17 243.81 L995.19 243.21 L996.20 242.57 L997.21 241.90 L998.22 241.21 L999.23 240.50 L1000.25 239.76 L1001.26 239.01 L1002.27 238.23 L1003.28 237.44 L1004.29 236.64 L1005.30 235.83 L1006.32 235.00 L1007.33 234.17 L1008.34 233.34 L1009.35 232.50 L1010.36 231.66 L1011.37 230.83 L1012.38 230.00 L1013.40 229.17 L1014.41 228.36 L1015.42 227.56 L1016.43 226.77 L1017.44 225.99 L1018.46 225.24 L1019.47 224.50 L1020.48 223.79 L1021.49 223.10 L1022.50 222.43 L1023.51 221.79 L1024.53 221.19 L1025.54 220.61 L1026.55 220.07 L1027.56 219.56 L1028.57 219.08 L1029.58 218.64 L1030.60 218.24 L1031.61 217.88 L1032.62 217.56 L1033.63 217.28 L1034.64 217.05 L1035.65 216.85 L1036.66 216.70 L1037.68 216.59 L1038.69 216.52 L1039.70 216.50 L1040.71 216.52 L1041.72 216.60 L1042.73 216.72 L1043.75 216.90 L1044.76 217.12 L1045.77 217.39 L1046.78 217.71 L1047.79 218.07 L1048.80 218.48 L1049.81 218.94 L1050.82 219.44 L1051.84 219.98 L1052.85 220.56 L1053.86 221.18 L1054.87 221.84 L1055.88 222.53 L1056.89 223.26 L1057.90 224.03 L1058.91 224.82 L1059.93 225.64 L1060.94 226.49 L1061.95 227.36 L1062.96 228.25 L1063.97 229.16 L1064.98 230.09 L1065.99 231.04 L1067.00 231.99 L1068.02 232.96 L1069.03 233.94 L1070.04 234.92 L1071.05 235.90 L1072.06 236.88 L1073.07 237.86 L1074.08 238.84 L1075.10 239.81 L1076.11 240.76 L1077.12 241.71 L1078.13 242.64 L1079.14 243.55 L1080.15 244.44 L1081.16 245.31 L1082.17 246.16 L1083.19 246.98 L1084.20 247.77 L1085.21 248.54 L1086.22 249.27 L1087.23 249.96 L1088.24 250.62 L1089.25 251.24 L1090.26 251.82 L1091.28 252.36 L1092.29 252.86 L1093.30 253.32 L1094.31 253.73 L1095.32 254.09 L1096.33 254.41 L1097.34 254.68 L1098.35 254.90 L1099.37 255.08 L1100.38 255.20 L1101.39 255.28 L1102.40 255.30 L1103.40 255.28 L1104.40 255.20 L1105.40 255.08 L1106.41 254.91 L1107.41 254.69 L1108.41 254.42 L1109.41 254.10 L1110.41 253.74 L1111.41 253.33 L1112.42 252.88 L1113.42 252.39 L1114.42 251.85 L1115.42 251.27 L1116.42 250.66 L1117.42 250.00 L1118.43 249.31 L1119.43 248.59 L1120.43 247.83 L1121.43 247.05 L1122.43 246.23 L1123.43 245.39 L1124.44 244.53 L1125.44 243.64 L1126.44 242.74 L1127.44 241.81 L1128.44 240.88 L1129.44 239.92 L1130.45 238.96 L1131.45 238.00 L1132.45 237.02 L1133.45 236.05 L1134.45 235.08 L1135.45 234.10 L1136.45 233.14 L1137.46 232.18 L1138.46 231.22 L1139.46 230.29 L1140.46 229.36 L1141.46 228.46 L1142.46 227.57 L1143.47 226.71 L1144.47 225.87 L1145.47 225.05 L1146.47 224.27 L1147.47 223.51 L1148.47 222.79 L1149.48 222.10 L1150.48 221.44 L1151.48 220.83 L1152.48 220.25 L1153.48 219.71 L1154.48 219.22 L1155.49 218.77 L1156.49 218.36 L1157.49 218.00 L1158.49 217.68 L1159.49 217.41 L1160.49 217.19 L1161.50 217.02 L1162.50 216.90 L1163.50 216.82 L1164.50 216.80 L1165.50 216.82 L1166.51 216.90 L1167.51 217.02 L1168.52 217.19 L1169.52 217.41 L1170.53 217.67 L1171.53 217.98 L1172.54 218.34 L1173.54 218.74 L1174.55 219.19 L1175.55 219.68 L1176.56 220.21 L1177.56 220.78 L1178.57 221.39 L1179.57 222.03 L1180.58 222.71 L1181.58 223.43 L1182.59 224.18 L1183.59 224.96 L1184.60 225.77 L1185.60 226.60 L1186.60 227.46 L1187.61 228.34 L1188.61 229.24 L1189.62 230.16 L1190.62 231.09 L1191.63 232.04 L1192.63 233.00 L1193.64 233.96 L1194.64 234.94 L1195.65 235.91 L1196.65 236.89 L1197.66 237.86 L1198.66 238.84 L1199.67 239.80 L1200.67 240.76 L1201.68 241.71 L1202.68 242.64 L1203.69 243.56 L1204.69 244.46 L1205.70 245.34 L1206.70 246.20 L1207.70 247.03 L1208.71 247.84 L1209.71 248.62 L1210.72 249.37 L1211.72 250.09 L1212.73 250.77 L1213.73 251.41 L1214.74 252.02 L1215.74 252.59 L1216.75 253.12 L1217.75 253.61 L1218.76 254.06 L1219.76 254.46 L1220.77 254.82 L1221.77 255.13 L1222.78 255.39 L1223.78 255.61 L1224.79 255.78 L1225.79 255.90 L1226.80 255.98 L1227.80 256.00 L1228.80 255.98 L1229.81 255.90 L1230.81 255.78 L1231.81 255.61 L1232.82 255.40 L1233.82 255.14 L1234.82 254.83 L1235.83 254.47 L1236.83 254.08 L1237.83 253.64 L1238.84 253.16 L1239.84 252.64 L1240.84 252.08 L1241.85 251.48 L1242.85 250.85 L1243.86 250.18 L1244.86 249.49 L1245.86 248.76 L1246.87 248.01 L1247.87 247.23 L1248.87 246.43 L1249.88 245.61 L1250.88 244.77 L1251.88 243.91 L1252.89 243.05 L1253.89 242.17 L1254.89 241.28 L1255.90 240.39 L1256.90 239.50 L1257.90 238.61 L1258.91 237.72 L1259.91 236.83 L1260.91 235.95 L1261.92 235.09 L1262.92 234.23 L1263.92 233.39 L1264.93 232.57 L1265.93 231.77 L1266.93 230.99 L1267.94 230.24 L1268.94 229.51 L1269.94 228.82 L1270.95 228.15 L1271.95 227.52 L1272.96 226.92 L1273.96 226.36 L1274.96 225.84 L1275.97 225.36 L1276.97 224.92 L1277.97 224.53 L1278.98 224.17 L1279.98 223.86 L1280.98 223.60 L1281.99 223.39 L1282.99 223.22 L1283.99 223.10 L1285.00 223.02 L1286.00 223.00 L1287.00 223.02 L1288.00 223.09 L1289.00 223.19 L1290.00 223.34 L1291.00 223.53 L1292.00 223.77 L1293.00 224.04 L1294.00 224.36 L1295.00 224.71 L1296.00 225.10 L1297.00 225.54 L1298.00 226.00 L1299.00 226.50 L1300.00 227.04 L1301.00 227.61 L1302.00 228.21 L1303.00 228.84 L1304.00 229.50 L1305.00 230.18 L1306.00 230.89 L1307.00 231.62 L1308.00 232.37 L1309.00 233.14 L1310.00 233.93 L1311.00 234.74 L1312.00 235.55 L1313.00 236.38 L1314.00 237.21 L1315.00 238.06 L1316.00 238.90 L1317.00 239.75 L1318.00 240.60 L1319.00 241.44 L1320.00 242.29 L1321.00 243.12 L1322.00 243.95 L1323.00 244.76 L1324.00 245.57 L1325.00 246.36 L1326.00 247.13 L1327.00 247.88 L1328.00 248.61 L1329.00 249.32 L1330.00 250.00 L1331.00 250.66 L1332.00 251.29 L1333.00 251.89 L1334.00 252.46 L1335.00 253.00 L1336.00 253.50 L1337.00 253.96 L1338.00 254.40 L1339.00 254.79 L1340.00 255.14 L1341.00 255.46 L1342.00 255.73 L1343.00 255.97 L1344.00 256.16 L1345.00 256.31 L1346.00 256.41 L1347.00 256.48 L1348.00 256.50 L1349.00 256.47 L1350.00 256.40 L1351.00 256.28 L1352.00 256.10 L1353.00 255.88 L1354.00 255.61 L1355.00 255.29 L1356.00 254.92 L1357.00 254.51 L1358.00 254.05 L1359.00 253.56 L1360.00 253.01 L1361.00 252.43 L1362.00 251.81 L1363.00 251.15 L1364.00 250.46 L1365.00 249.74 L1365.00 249.74" fill="none" stroke="#0000ff" stroke-width="6.4" stroke-dasharray="6.2 4.6" stroke-linejoin="miter" stroke-linecap="butt"/><path d="M196.50 540.95 L197.50 540.88 L198.50 540.82 L199.50 540.77 L200.50 540.72 L201.50 540.68 L202.50 540.66 L203.50 540.64 L204.50 540.63 L205.50 540.63 L206.50 540.64 L207.50 540.65 L208.50 540.68 L209.50 540.71 L210.50 540.75 L211.50 540.80 L212.50 540.86 L213.50 540.92 L214.50 540.99 L215.50 541.07 L216.50 541.16 L217.50 541.26 L218.50 541.36 L219.50 541.47 L220.50 541.58 L221.50 541.71 L222.50 541.84 L223.50 541.97 L224.50 542.12 L225.50 542.27 L226.50 542.43 L227.50 542.59 L228.50 542.76 L229.50 542.94 L230.50 543.12 L231.50 543.31 L232.50 543.50 L233.50 543.70 L234.50 543.91 L235.50 544.12 L236.50 544.34 L237.50 544.56 L238.50 544.79 L239.50 545.02 L240.50 545.26 L241.50 545.51 L242.50 545.76 L243.50 546.01 L244.50 546.27 L245.50 546.53 L246.50 546.80 L247.50 547.07 L248.50 547.35 L249.50 547.63 L250.50 547.92 L251.50 548.21 L252.50 548.50 L253.50 548.80 L254.50 549.10 L255.50 549.40 L256.50 549.71 L257.50 550.02 L258.50 550.34 L259.50 550.66 L260.50 550.98 L261.50 551.31 L262.50 551.64 L263.50 551.97 L264.50 552.30 L265.50 552.64 L266.50 552.98 L267.50 553.32 L268.50 553.67 L269.50 554.01 L270.50 554.36 L271.50 554.71 L272.50 555.07 L273.50 555.42 L274.50 555.78 L275.50 556.14 L276.50 556.50 L277.50 556.87 L278.50 557.23 L279.50 557.60 L280.50 557.96 L281.50 558.33 L282.50 558.70 L283.50 559.07 L284.50 559.44 L285.50 559.81 L286.50 560.19 L287.50 560.56 L288.50 560.93 L289.50 561.31 L290.50 561.68 L291.50 562.06 L292.50 562.43 L293.50 562.81 L294.50 563.18 L295.50 563.56 L296.50 563.93 L297.50 564.31 L298.50 564.68 L299.50 565.06 L300.50 565.43 L301.50 565.80 L302.50 566.17 L303.50 566.54 L304.50 566.91 L305.50 567.28 L306.50 567.65 L307.50 568.01 L308.50 568.38 L309.50 568.74 L310.50 569.10 L311.50 569.46 L312.50 569.82 L313.50 570.17 L314.50 570.53 L315.50 570.88 L316.50 571.23 L317.50 571.57 L318.50 571.92 L319.50 572.26 L320.50 572.60 L321.50 572.94 L322.50 573.27 L323.50 573.60 L324.50 573.93 L325.50 574.26 L326.50 574.58 L327.50 574.90 L328.50 575.21 L329.50 575.52 L330.50 575.83 L331.50 576.14 L332.50 576.44 L333.50 576.74 L334.50 577.03 L335.50 577.32 L336.50 577.60 L337.50 577.88 L338.50 578.16 L339.50 578.43 L340.50 578.70 L341.50 578.96 L342.50 579.22 L343.50 579.48 L344.50 579.72 L345.50 579.97 L346.50 580.21 L347.50 580.44 L348.50 580.67 L349.50 580.90 L350.50 581.12 L351.50 581.33 L352.50 581.54 L353.50 581.74 L354.50 581.94 L355.50 582.14 L356.50 582.33 L357.50 582.51 L358.50 582.69 L359.50 582.86 L360.50 583.03 L361.50 583.19 L362.50 583.35 L363.50 583.50 L364.50 583.65 L365.50 583.79 L366.50 583.92 L367.50 584.05 L368.50 584.18 L369.50 584.30 L370.50 584.41 L371.50 584.52 L372.50 584.62 L373.50 584.71 L374.50 584.80 L375.50 584.88 L376.50 584.96 L377.50 585.03 L378.50 585.10 L379.50 585.16 L380.50 585.21 L381.50 585.26 L382.50 585.30 L383.50 585.34 L384.50 585.36 L385.50 585.39 L386.50 585.40 L387.50 585.41 L388.50 585.42 L389.50 585.41 L390.50 585.40 L391.50 585.39 L392.50 585.37 L393.50 585.34 L394.50 585.30 L395.50 585.26 L396.50 585.21 L397.50 585.15 L398.50 585.09 L399.50 585.02 L400.50 584.95 L401.50 584.86 L402.50 584.77 L403.50 584.68 L404.50 584.57 L405.50 584.46 L406.50 584.35 L407.50 584.22 L408.50 584.09 L409.50 583.95 L410.50 583.80 L411.50 583.65 L412.50 583.49 L413.50 583.32 L414.50 583.15 L415.50 582.96 L416.50 582.77 L417.50 582.58 L418.50 582.37 L419.50 582.16 L420.50 581.94 L421.50 581.71 L422.50 581.48 L423.50 581.23 L424.50 580.99 L425.50 580.73 L426.50 580.47 L427.50 580.20 L428.50 579.92 L429.50 579.64 L430.50 579.35 L431.50 579.05 L432.50 578.74 L433.50 578.43 L434.50 578.12 L435.50 577.79 L436.50 577.46 L437.50 577.13 L438.50 576.79 L439.50 576.44 L440.50 576.08 L441.50 575.72 L442.50 575.36 L443.50 574.99 L444.50 574.61 L445.50 574.22 L446.50 573.84 L447.50 573.44 L448.50 573.04 L449.50 572.64 L450.50 572.22 L451.50 571.81 L452.50 571.39 L453.50 570.96 L454.50 570.53 L455.50 570.09 L456.50 569.65 L457.50 569.20 L458.50 568.75 L459.50 568.29 L460.50 567.83 L461.50 567.37 L462.50 566.90 L463.50 566.42 L464.50 565.94 L465.50 565.46 L466.50 564.97 L467.50 564.48 L468.50 563.98 L469.50 563.48 L470.50 562.98 L471.50 562.47 L472.50 561.96 L473.50 561.44 L474.50 560.92 L475.50 560.40 L476.50 559.87 L477.50 559.34 L478.50 558.81 L479.50 558.27 L480.50 557.73 L481.50 557.18 L482.50 556.64 L483.50 556.09 L484.50 555.53 L485.50 554.98 L486.50 554.42 L487.50 553.86 L488.50 553.29 L489.50 552.72 L490.50 552.16 L491.50 551.58 L492.50 551.01 L493.50 550.44 L494.50 549.86 L495.50 549.28 L496.50 548.70 L497.50 548.12 L498.50 547.54 L499.50 546.95 L500.50 546.36 L501.50 545.78 L502.50 545.19 L503.50 544.60 L504.50 544.01 L505.50 543.42 L506.50 542.83 L507.50 542.24 L508.50 541.65 L509.50 541.05 L510.50 540.46 L511.50 539.87 L512.50 539.28 L513.50 538.68 L514.50 538.09 L515.50 537.50 L516.50 536.91 L517.50 536.32 L518.50 535.73 L519.50 535.14 L520.50 534.55 L521.50 533.97 L522.50 533.38 L523.50 532.80 L524.50 532.21 L525.50 531.63 L526.50 531.05 L527.50 530.47 L528.50 529.89 L529.50 529.32 L530.50 528.75 L531.50 528.18 L532.50 527.61 L533.50 527.04 L534.50 526.48 L535.50 525.92 L536.50 525.36 L537.50 524.80 L538.50 524.25 L539.50 523.70 L540.50 523.15 L541.50 522.61 L542.50 522.07 L543.50 521.53 L544.50 521.00 L545.50 520.47 L546.50 519.94 L547.50 519.42 L548.50 518.90 L549.50 518.38 L550.50 517.87 L551.50 517.37 L552.50 516.87 L553.50 516.37 L554.50 515.88 L555.50 515.39 L556.50 514.91 L557.50 514.43 L558.50 513.95 L559.50 513.49 L560.50 513.02 L561.50 512.57 L562.50 512.11 L563.50 511.67 L564.50 511.23 L565.50 510.79 L566.50 510.36 L567.50 509.94 L568.50 509.52 L569.50 509.11 L570.50 508.70 L571.50 508.30 L572.50 507.91 L573.50 507.52 L574.50 507.14 L575.50 506.77 L576.50 506.40 L577.50 506.03 L578.50 505.68 L579.50 505.33 L580.50 504.98 L581.50 504.64 L582.50 504.31 L583.50 503.98 L584.50 503.66 L585.50 503.35 L586.50 503.04 L587.50 502.74 L588.50 502.44 L589.50 502.15 L590.50 501.87 L591.50 501.59 L592.50 501.32 L593.50 501.06 L594.50 500.80 L595.50 500.55 L596.50 500.30 L597.50 500.06 L598.50 499.83 L599.50 499.60 L600.50 499.38 L601.50 499.17 L602.50 498.96 L603.50 498.76 L604.50 498.56 L605.50 498.37 L606.50 498.19 L607.50 498.02 L608.50 497.85 L609.50 497.68 L610.50 497.53 L611.50 497.38 L612.50 497.24 L613.50 497.10 L614.50 496.97 L615.50 496.84 L616.50 496.73 L617.50 496.62 L618.50 496.51 L619.50 496.42 L620.50 496.32 L621.50 496.24 L622.50 496.16 L623.50 496.09 L624.50 496.03 L625.50 495.97 L626.50 495.92 L627.50 495.87 L628.50 495.84 L629.50 495.80 L630.50 495.78 L631.50 495.76 L632.50 495.75 L633.50 495.75 L634.50 495.75 L635.50 495.76 L636.50 495.78 L637.50 495.80 L638.50 495.83 L639.50 495.87 L640.50 495.91 L641.50 495.96 L642.50 496.02 L643.50 496.08 L644.50 496.15 L645.50 496.23 L646.50 496.31 L647.50 496.41 L648.50 496.51 L649.50 496.61 L650.50 496.72 L651.50 496.84 L652.50 496.97 L653.50 497.10 L654.50 497.24 L655.50 497.39 L656.50 497.54 L657.50 497.70 L658.50 497.87 L659.50 498.04 L660.50 498.22 L661.50 498.41 L662.50 498.60 L663.50 498.80 L664.50 499.00 L665.50 499.21 L666.50 499.43 L667.50 499.65 L668.50 499.87 L669.50 500.11 L670.50 500.34 L671.50 500.59 L672.50 500.83 L673.50 501.09 L674.50 501.34 L675.50 501.60 L676.50 501.87 L677.50 502.14 L678.50 502.42 L679.50 502.70 L680.50 502.98 L681.50 503.27 L682.50 503.57 L683.50 503.86 L684.50 504.16 L685.50 504.47 L686.50 504.78 L687.50 505.09 L688.50 505.41 L689.50 505.73 L690.50 506.05 L691.50 506.37 L692.50 506.70 L693.50 507.04 L694.50 507.37 L695.50 507.71 L696.50 508.05 L697.50 508.39 L698.50 508.74 L699.50 509.09 L700.50 509.44 L701.50 509.79 L702.50 510.15 L703.50 510.50 L704.50 510.86 L705.50 511.23 L706.50 511.59 L707.50 511.95 L708.50 512.32 L709.50 512.69 L710.50 513.06 L711.50 513.43 L712.50 513.80 L713.50 514.17 L714.50 514.55 L715.50 514.92 L716.50 515.30 L717.50 515.68 L718.50 516.05 L719.50 516.43 L720.50 516.81 L721.50 517.19 L722.50 517.57 L723.50 517.95 L724.50 518.32 L725.50 518.70 L726.50 519.08 L727.50 519.46 L728.50 519.84 L729.50 520.22 L730.50 520.59 L731.50 520.97 L732.50 521.35 L733.50 521.72 L734.50 522.10 L735.50 522.47 L736.50 522.84 L737.50 523.21 L738.50 523.58 L739.50 523.95 L740.50 524.32 L741.50 524.68 L742.50 525.05 L743.50 525.41 L744.50 525.77 L745.50 526.12 L746.50 526.48 L747.50 526.83 L748.50 527.18 L749.50 527.53 L750.50 527.88 L751.50 528.22 L752.50 528.56 L753.50 528.90 L754.50 529.24 L755.50 529.57 L756.50 529.90 L757.50 530.23 L758.50 530.55 L759.50 530.87 L760.50 531.18 L761.50 531.50 L762.50 531.81 L763.50 532.11 L764.50 532.41 L765.50 532.71 L766.50 533.00 L767.50 533.29 L768.50 533.58 L769.50 533.86 L770.50 534.13 L771.50 534.41 L772.50 534.67 L773.50 534.93 L774.50 535.19 L775.50 535.44 L776.50 535.69 L777.50 535.93 L778.50 536.17 L779.50 536.40 L780.50 536.63 L781.50 536.85 L782.50 537.07 L783.50 537.28 L784.50 537.48 L785.50 537.68 L786.50 537.87 L787.50 538.06 L788.50 538.24 L789.50 538.41 L790.50 538.58 L791.50 538.74 L792.50 538.89 L793.50 539.04 L794.50 539.18 L795.50 539.31 L796.50 539.44 L797.50 539.56 L798.50 539.67 L799.50 539.78 L800.50 539.88 L801.50 539.97 L802.50 540.05 L803.50 540.13 L804.50 540.19 L805.50 540.25 L806.50 540.31 L807.50 540.35 L808.50 540.39 L809.50 540.42 L810.50 540.44 L811.50 540.45 L812.50 540.46 L813.50 540.46 L814.50 540.45 L815.50 540.43 L816.50 540.41 L817.50 540.38 L818.50 540.35 L819.50 540.30 L820.50 540.25 L821.50 540.20 L822.50 540.13 L823.50 540.06 L824.50 539.99 L825.50 539.90 L826.50 539.81 L827.50 539.72 L828.50 539.62 L829.50 539.51 L830.50 539.40 L831.50 539.28 L832.50 539.15 L833.50 539.02 L834.50 538.88 L835.50 538.74 L836.50 538.59 L837.50 538.43 L838.50 538.27 L839.50 538.11 L840.50 537.94 L841.50 537.76 L842.50 537.58 L843.50 537.40 L844.50 537.21 L845.50 537.01 L846.50 536.81 L847.50 536.60 L848.50 536.39 L849.50 536.18 L850.50 535.96 L851.50 535.74 L852.50 535.51 L853.50 535.28 L854.50 535.04 L855.50 534.80 L856.50 534.55 L857.50 534.30 L858.50 534.05 L859.50 533.79 L860.50 533.53 L861.50 533.27 L862.50 533.00 L863.50 532.73 L864.50 532.45 L865.50 532.17 L866.50 531.89 L867.50 531.61 L868.50 531.32 L869.50 531.03 L870.50 530.73 L871.50 530.43 L872.50 530.13 L873.50 529.83 L874.50 529.52 L875.50 529.21 L876.50 528.90 L877.50 528.59 L878.50 528.27 L879.50 527.95 L880.50 527.63 L881.50 527.30 L882.50 526.98 L883.50 526.65 L884.50 526.32 L885.50 525.99 L886.50 525.65 L887.50 525.32 L888.50 524.98 L889.50 524.64 L890.50 524.30 L891.50 523.96 L892.50 523.62 L893.50 523.27 L894.50 522.92 L895.50 522.58 L896.50 522.23 L897.50 521.88 L898.50 521.53 L899.50 521.18 L900.50 520.82 L901.50 520.47 L902.50 520.12 L903.50 519.76 L904.50 519.41 L905.50 519.05 L906.50 518.70 L907.50 518.34 L908.50 517.98 L909.50 517.63 L910.50 517.27 L911.50 516.91 L912.50 516.56 L913.50 516.20 L914.50 515.84 L915.50 515.49 L916.50 515.13 L917.50 514.78 L918.50 514.42 L919.50 514.07 L920.50 513.72 L921.50 513.36 L922.50 513.01 L923.50 512.66 L924.50 512.31 L925.50 511.96 L926.50 511.61 L927.50 511.27 L928.50 510.92 L929.50 510.58 L930.50 510.24 L931.50 509.90 L932.50 509.56 L933.50 509.22 L934.50 508.88 L935.50 508.55 L936.50 508.22 L937.50 507.89 L938.50 507.56 L939.50 507.24 L940.50 506.92 L941.50 506.60 L942.50 506.28 L943.50 505.96 L944.50 505.65 L945.50 505.34 L946.50 505.03 L947.50 504.73 L948.50 504.43 L949.50 504.13 L950.50 503.84 L951.50 503.55 L952.50 503.26 L953.50 502.97 L954.50 502.69 L955.50 502.42 L956.50 502.14 L957.50 501.87 L958.50 501.61 L959.50 501.35 L960.50 501.09 L961.50 500.83 L962.50 500.58 L963.50 500.34 L964.50 500.10 L965.50 499.86 L966.50 499.63 L967.50 499.40 L968.50 499.18 L969.50 498.96 L970.50 498.75 L971.50 498.54 L972.50 498.34 L973.50 498.14 L974.50 497.95 L975.50 497.76 L976.50 497.58 L977.50 497.40 L978.50 497.23 L979.50 497.06 L980.50 496.91 L981.50 496.75 L982.50 496.60 L983.50 496.46 L984.50 496.33 L985.50 496.20 L986.50 496.07 L987.50 495.96 L988.50 495.85 L989.50 495.74 L990.50 495.64 L991.50 495.55 L992.50 495.47 L993.50 495.39 L994.50 495.32 L995.50 495.26 L996.50 495.20 L997.50 495.15 L998.50 495.11 L999.50 495.07 L1000.50 495.05 L1001.50 495.03 L1002.50 495.01 L1003.50 495.01 L1004.50 495.01 L1005.50 495.02 L1006.50 495.04 L1007.50 495.07 L1008.50 495.10 L1009.50 495.15 L1010.50 495.20 L1011.50 495.25 L1012.50 495.32 L1013.50 495.39 L1014.50 495.47 L1015.50 495.56 L1016.50 495.66 L1017.50 495.76 L1018.50 495.87 L1019.50 495.99 L1020.50 496.12 L1021.50 496.25 L1022.50 496.39 L1023.50 496.54 L1024.50 496.69 L1025.50 496.85 L1026.50 497.02 L1027.50 497.20 L1028.50 497.38 L1029.50 497.57 L1030.50 497.77 L1031.50 497.97 L1032.50 498.18 L1033.50 498.40 L1034.50 498.62 L1035.50 498.86 L1036.50 499.09 L1037.50 499.34 L1038.50 499.59 L1039.50 499.85 L1040.50 500.11 L1041.50 500.38 L1042.50 500.66 L1043.50 500.95 L1044.50 501.24 L1045.50 501.53 L1046.50 501.84 L1047.50 502.15 L1048.50 502.46 L1049.50 502.78 L1050.50 503.11 L1051.50 503.45 L1052.50 503.79 L1053.50 504.13 L1054.50 504.49 L1055.50 504.85 L1056.50 505.21 L1057.50 505.58 L1058.50 505.96 L1059.50 506.34 L1060.50 506.73 L1061.50 507.12 L1062.50 507.52 L1063.50 507.93 L1064.50 508.34 L1065.50 508.75 L1066.50 509.17 L1067.50 509.60 L1068.50 510.03 L1069.50 510.47 L1070.50 510.92 L1071.50 511.37 L1072.50 511.82 L1073.50 512.28 L1074.50 512.74 L1075.50 513.21 L1076.50 513.69 L1077.50 514.17 L1078.50 514.66 L1079.50 515.15 L1080.50 515.64 L1081.50 516.14 L1082.50 516.65 L1083.50 517.16 L1084.50 517.67 L1085.50 518.19 L1086.50 518.72 L1087.50 519.24 L1088.50 519.78 L1089.50 520.31 L1090.50 520.86 L1091.50 521.40 L1092.50 521.95 L1093.50 522.50 L1094.50 523.06 L1095.50 523.62 L1096.50 524.18 L1097.50 524.75 L1098.50 525.31 L1099.50 525.89 L1100.50 526.46 L1101.50 527.04 L1102.50 527.62 L1103.50 528.20 L1104.50 528.79 L1105.50 529.38 L1106.50 529.97 L1107.50 530.56 L1108.50 531.15 L1109.50 531.75 L1110.50 532.35 L1111.50 532.94 L1112.50 533.55 L1113.50 534.15 L1114.50 534.75 L1115.50 535.35 L1116.50 535.96 L1117.50 536.57 L1118.50 537.17 L1119.50 537.78 L1120.50 538.39 L1121.50 539.00 L1122.50 539.61 L1123.50 540.22 L1124.50 540.82 L1125.50 541.43 L1126.50 542.04 L1127.50 542.65 L1128.50 543.26 L1129.50 543.87 L1130.50 544.48 L1131.50 545.08 L1132.50 545.69 L1133.50 546.29 L1134.50 546.90 L1135.50 547.50 L1136.50 548.10 L1137.50 548.70 L1138.50 549.30 L1139.50 549.89 L1140.50 550.49 L1141.50 551.08 L1142.50 551.67 L1143.50 552.26 L1144.50 552.85 L1145.50 553.43 L1146.50 554.01 L1147.50 554.59 L1148.50 555.17 L1149.50 555.74 L1150.50 556.31 L1151.50 556.88 L1152.50 557.44 L1153.50 558.00 L1154.50 558.56 L1155.50 559.12 L1156.50 559.67 L1157.50 560.21 L1158.50 560.76 L1159.50 561.29 L1160.50 561.83 L1161.50 562.36 L1162.50 562.89 L1163.50 563.41 L1164.50 563.92 L1165.50 564.44 L1166.50 564.94 L1167.50 565.45 L1168.50 565.94 L1169.50 566.44 L1170.50 566.92 L1171.50 567.41 L1172.50 567.88 L1173.50 568.35 L1174.50 568.82 L1175.50 569.28 L1176.50 569.73 L1177.50 570.18 L1178.50 570.62 L1179.50 571.06 L1180.50 571.49 L1181.50 571.92 L1182.50 572.33 L1183.50 572.75 L1184.50 573.16 L1185.50 573.56 L1186.50 573.95 L1187.50 574.34 L1188.50 574.73 L1189.50 575.11 L1190.50 575.48 L1191.50 575.84 L1192.50 576.20 L1193.50 576.56 L1194.50 576.90 L1195.50 577.25 L1196.50 577.58 L1197.50 577.91 L1198.50 578.23 L1199.50 578.55 L1200.50 578.86 L1201.50 579.16 L1202.50 579.46 L1203.50 579.75 L1204.50 580.03 L1205.50 580.31 L1206.50 580.58 L1207.50 580.84 L1208.50 581.10 L1209.50 581.35 L1210.50 581.59 L1211.50 581.83 L1212.50 582.06 L1213.50 582.28 L1214.50 582.50 L1215.50 582.71 L1216.50 582.91 L1217.50 583.11 L1218.50 583.29 L1219.50 583.48 L1220.50 583.65 L1221.50 583.82 L1222.50 583.98 L1223.50 584.13 L1224.50 584.28 L1225.50 584.41 L1226.50 584.55 L1227.50 584.67 L1228.50 584.79 L1229.50 584.90 L1230.50 585.00 L1231.50 585.09 L1232.50 585.18 L1233.50 585.26 L1234.50 585.33 L1235.50 585.40 L1236.50 585.45 L1237.50 585.50 L1238.50 585.54 L1239.50 585.58 L1240.50 585.60 L1241.50 585.62 L1242.50 585.63 L1243.50 585.64 L1244.50 585.64 L1245.50 585.63 L1246.50 585.61 L1247.50 585.58 L1248.50 585.55 L1249.50 585.51 L1250.50 585.47 L1251.50 585.42 L1252.50 585.36 L1253.50 585.29 L1254.50 585.22 L1255.50 585.14 L1256.50 585.05 L1257.50 584.96 L1258.50 584.86 L1259.50 584.76 L1260.50 584.65 L1261.50 584.53 L1262.50 584.41 L1263.50 584.28 L1264.50 584.15 L1265.50 584.00 L1266.50 583.86 L1267.50 583.71 L1268.50 583.55 L1269.50 583.38 L1270.50 583.21 L1271.50 583.04 L1272.50 582.86 L1273.50 582.67 L1274.50 582.48 L1275.50 582.29 L1276.50 582.09 L1277.50 581.88 L1278.50 581.67 L1279.50 581.45 L1280.50 581.23 L1281.50 581.01 L1282.50 580.77 L1283.50 580.54 L1284.50 580.30 L1285.50 580.05 L1286.50 579.81 L1287.50 579.55 L1288.50 579.29 L1289.50 579.03 L1290.50 578.77 L1291.50 578.49 L1292.50 578.22 L1293.50 577.94 L1294.50 577.66 L1295.50 577.37 L1296.50 577.08 L1297.50 576.79 L1298.50 576.49 L1299.50 576.19 L1300.50 575.88 L1301.50 575.58 L1302.50 575.26 L1303.50 574.95 L1304.50 574.63 L1305.50 574.31 L1306.50 573.98 L1307.50 573.65 L1308.50 573.32 L1309.50 572.99 L1310.50 572.65 L1311.50 572.31 L1312.50 571.97 L1313.50 571.63 L1314.50 571.28 L1315.50 570.93 L1316.50 570.57 L1317.50 570.22 L1318.50 569.86 L1319.50 569.50 L1320.50 569.14 L1321.50 568.78 L1322.50 568.41 L1323.50 568.04 L1324.50 567.67 L1325.50 567.30 L1326.50 566.92 L1327.50 566.55 L1328.50 566.17 L1329.50 565.79 L1330.50 565.41 L1331.50 565.03 L1332.50 564.64 L1333.50 564.26 L1334.50 563.87 L1335.50 563.48 L1336.50 563.10 L1337.50 562.71 L1338.50 562.32 L1339.50 561.92 L1340.50 561.53 L1341.50 561.14 L1342.50 560.74 L1343.50 560.35 L1344.50 559.95 L1345.50 559.56 L1346.50 559.16 L1347.50 558.76 L1348.50 558.36 L1349.50 557.97 L1350.50 557.57 L1351.50 557.17 L1352.50 556.77 L1353.50 556.37 L1354.50 555.98 L1355.50 555.58 L1356.50 555.18 L1357.50 554.78 L1358.50 554.38 L1359.50 553.99 L1360.50 553.59 L1361.50 553.19 L1362.50 552.80 L1363.50 552.40 L1364.50 552.01 L1364.60 551.97" fill="none" stroke="#ff0000" stroke-width="6.2" stroke-linejoin="miter" stroke-miterlimit="4" stroke-linecap="butt"/><path d="M196.50 540.68 L197.50 540.74 L198.50 540.80 L199.50 540.83 L200.50 540.86 L201.50 540.87 L202.50 540.87 L203.50 540.86 L204.50 540.83 L205.50 540.79 L206.50 540.74 L207.50 540.68 L208.50 540.61 L209.50 540.52 L210.50 540.42 L211.50 540.31 L212.50 540.18 L213.50 540.05 L214.50 539.90 L215.50 539.74 L216.50 539.57 L217.50 539.39 L218.50 539.20 L219.50 538.99 L220.50 538.77 L221.50 538.55 L222.50 538.31 L223.50 538.06 L224.50 537.80 L225.50 537.53 L226.50 537.24 L227.50 536.95 L228.50 536.65 L229.50 536.33 L230.50 536.01 L231.50 535.68 L232.50 535.33 L233.50 534.98 L234.50 534.61 L235.50 534.24 L236.50 533.85 L237.50 533.46 L238.50 533.05 L239.50 532.64 L240.50 532.21 L241.50 531.78 L242.50 531.34 L243.50 530.88 L244.50 530.42 L245.50 529.95 L246.50 529.47 L247.50 528.98 L248.50 528.49 L249.50 527.98 L250.50 527.46 L251.50 526.94 L252.50 526.41 L253.50 525.87 L254.50 525.32 L255.50 524.76 L256.50 524.19 L257.50 523.62 L258.50 523.04 L259.50 522.45 L260.50 521.85 L261.50 521.25 L262.50 520.63 L263.50 520.01 L264.50 519.38 L265.50 518.75 L266.50 518.10 L267.50 517.45 L268.50 516.79 L269.50 516.13 L270.50 515.46 L271.50 514.78 L272.50 514.09 L273.50 513.40 L274.50 512.70 L275.50 511.99 L276.50 511.28 L277.50 510.56 L278.50 509.84 L279.50 509.11 L280.50 508.37 L281.50 507.63 L282.50 506.88 L283.50 506.12 L284.50 505.36 L285.50 504.60 L286.50 503.83 L287.50 503.06 L288.50 502.28 L289.50 501.50 L290.50 500.72 L291.50 499.93 L292.50 499.14 L293.50 498.34 L294.50 497.55 L295.50 496.75 L296.50 495.95 L297.50 495.14 L298.50 494.34 L299.50 493.53 L300.50 492.72 L301.50 491.91 L302.50 491.10 L303.50 490.29 L304.50 489.47 L305.50 488.66 L306.50 487.85 L307.50 487.04 L308.50 486.22 L309.50 485.41 L310.50 484.60 L311.50 483.79 L312.50 482.99 L313.50 482.18 L314.50 481.37 L315.50 480.57 L316.50 479.77 L317.50 478.97 L318.50 478.18 L319.50 477.38 L320.50 476.59 L321.50 475.81 L322.50 475.03 L323.50 474.25 L324.50 473.47 L325.50 472.70 L326.50 471.94 L327.50 471.18 L328.50 470.42 L329.50 469.67 L330.50 468.92 L331.50 468.18 L332.50 467.45 L333.50 466.72 L334.50 466.00 L335.50 465.28 L336.50 464.57 L337.50 463.87 L338.50 463.18 L339.50 462.49 L340.50 461.81 L341.50 461.14 L342.50 460.48 L343.50 459.82 L344.50 459.18 L345.50 458.54 L346.50 457.91 L347.50 457.29 L348.50 456.68 L349.50 456.08 L350.50 455.49 L351.50 454.91 L352.50 454.34 L353.50 453.78 L354.50 453.23 L355.50 452.69 L356.50 452.17 L357.50 451.65 L358.50 451.15 L359.50 450.65 L360.50 450.17 L361.50 449.70 L362.50 449.25 L363.50 448.80 L364.50 448.37 L365.50 447.95 L366.50 447.54 L367.50 447.15 L368.50 446.77 L369.50 446.40 L370.50 446.05 L371.50 445.71 L372.50 445.39 L373.50 445.08 L374.50 444.78 L375.50 444.50 L376.50 444.24 L377.50 443.99 L378.50 443.75 L379.50 443.53 L380.50 443.33 L381.50 443.14 L382.50 442.97 L383.50 442.81 L384.50 442.67 L385.50 442.55 L386.50 442.44 L387.50 442.35 L388.50 442.28 L389.50 442.23 L390.50 442.19 L391.50 442.17 L392.50 442.17 L393.50 442.19 L394.50 442.22 L395.50 442.28 L396.50 442.35 L397.50 442.44 L398.50 442.56 L399.50 442.69 L400.50 442.84 L401.50 443.01 L402.50 443.19 L403.50 443.40 L404.50 443.62 L405.50 443.87 L406.50 444.13 L407.50 444.41 L408.50 444.71 L409.50 445.02 L410.50 445.36 L411.50 445.71 L412.50 446.08 L413.50 446.46 L414.50 446.87 L415.50 447.29 L416.50 447.73 L417.50 448.18 L418.50 448.66 L419.50 449.15 L420.50 449.65 L421.50 450.17 L422.50 450.71 L423.50 451.27 L424.50 451.84 L425.50 452.43 L426.50 453.03 L427.50 453.65 L428.50 454.29 L429.50 454.94 L430.50 455.60 L431.50 456.28 L432.50 456.98 L433.50 457.69 L434.50 458.42 L435.50 459.16 L436.50 459.92 L437.50 460.69 L438.50 461.47 L439.50 462.27 L440.50 463.09 L441.50 463.92 L442.50 464.76 L443.50 465.61 L444.50 466.48 L445.50 467.36 L446.50 468.25 L447.50 469.16 L448.50 470.07 L449.50 471.00 L450.50 471.94 L451.50 472.90 L452.50 473.86 L453.50 474.84 L454.50 475.82 L455.50 476.82 L456.50 477.82 L457.50 478.84 L458.50 479.87 L459.50 480.90 L460.50 481.95 L461.50 483.00 L462.50 484.07 L463.50 485.14 L464.50 486.22 L465.50 487.31 L466.50 488.41 L467.50 489.51 L468.50 490.63 L469.50 491.75 L470.50 492.88 L471.50 494.01 L472.50 495.15 L473.50 496.30 L474.50 497.46 L475.50 498.62 L476.50 499.78 L477.50 500.95 L478.50 502.13 L479.50 503.31 L480.50 504.50 L481.50 505.69 L482.50 506.89 L483.50 508.09 L484.50 509.30 L485.50 510.51 L486.50 511.72 L487.50 512.93 L488.50 514.15 L489.50 515.38 L490.50 516.60 L491.50 517.83 L492.50 519.06 L493.50 520.29 L494.50 521.52 L495.50 522.75 L496.50 523.99 L497.50 525.23 L498.50 526.47 L499.50 527.70 L500.50 528.94 L501.50 530.18 L502.50 531.42 L503.50 532.67 L504.50 533.91 L505.50 535.15 L506.50 536.39 L507.50 537.63 L508.50 538.87 L509.50 540.11 L510.50 541.34 L511.50 542.58 L512.50 543.82 L513.50 545.05 L514.50 546.29 L515.50 547.52 L516.50 548.75 L517.50 549.98 L518.50 551.20 L519.50 552.43 L520.50 553.65 L521.50 554.87 L522.50 556.08 L523.50 557.30 L524.50 558.51 L525.50 559.71 L526.50 560.92 L527.50 562.12 L528.50 563.32 L529.50 564.51 L530.50 565.70 L531.50 566.89 L532.50 568.07 L533.50 569.24 L534.50 570.42 L535.50 571.59 L536.50 572.75 L537.50 573.91 L538.50 575.06 L539.50 576.21 L540.50 577.35 L541.50 578.49 L542.50 579.62 L543.50 580.75 L544.50 581.87 L545.50 582.98 L546.50 584.09 L547.50 585.19 L548.50 586.29 L549.50 587.37 L550.50 588.45 L551.50 589.53 L552.50 590.59 L553.50 591.65 L554.50 592.71 L555.50 593.75 L556.50 594.79 L557.50 595.82 L558.50 596.84 L559.50 597.85 L560.50 598.85 L561.50 599.85 L562.50 600.83 L563.50 601.81 L564.50 602.78 L565.50 603.74 L566.50 604.69 L567.50 605.63 L568.50 606.56 L569.50 607.49 L570.50 608.40 L571.50 609.30 L572.50 610.19 L573.50 611.07 L574.50 611.94 L575.50 612.80 L576.50 613.65 L577.50 614.49 L578.50 615.32 L579.50 616.13 L580.50 616.94 L581.50 617.73 L582.50 618.51 L583.50 619.28 L584.50 620.04 L585.50 620.78 L586.50 621.51 L587.50 622.24 L588.50 622.94 L589.50 623.64 L590.50 624.32 L591.50 624.99 L592.50 625.64 L593.50 626.29 L594.50 626.92 L595.50 627.53 L596.50 628.13 L597.50 628.72 L598.50 629.29 L599.50 629.85 L600.50 630.39 L601.50 630.92 L602.50 631.44 L603.50 631.94 L604.50 632.42 L605.50 632.89 L606.50 633.35 L607.50 633.79 L608.50 634.21 L609.50 634.62 L610.50 635.01 L611.50 635.39 L612.50 635.75 L613.50 636.09 L614.50 636.42 L615.50 636.73 L616.50 637.02 L617.50 637.29 L618.50 637.55 L619.50 637.79 L620.50 638.02 L621.50 638.22 L622.50 638.41 L623.50 638.58 L624.50 638.74 L625.50 638.87 L626.50 638.99 L627.50 639.08 L628.50 639.16 L629.50 639.22 L630.50 639.26 L631.50 639.28 L632.50 639.29 L633.50 639.27 L634.50 639.23 L635.50 639.18 L636.50 639.11 L637.50 639.02 L638.50 638.91 L639.50 638.78 L640.50 638.64 L641.50 638.47 L642.50 638.29 L643.50 638.10 L644.50 637.89 L645.50 637.66 L646.50 637.41 L647.50 637.15 L648.50 636.87 L649.50 636.58 L650.50 636.27 L651.50 635.95 L652.50 635.61 L653.50 635.25 L654.50 634.89 L655.50 634.50 L656.50 634.11 L657.50 633.70 L658.50 633.27 L659.50 632.84 L660.50 632.39 L661.50 631.92 L662.50 631.45 L663.50 630.96 L664.50 630.46 L665.50 629.94 L666.50 629.42 L667.50 628.88 L668.50 628.33 L669.50 627.77 L670.50 627.20 L671.50 626.62 L672.50 626.03 L673.50 625.43 L674.50 624.82 L675.50 624.20 L676.50 623.57 L677.50 622.93 L678.50 622.28 L679.50 621.62 L680.50 620.95 L681.50 620.27 L682.50 619.59 L683.50 618.90 L684.50 618.19 L685.50 617.49 L686.50 616.77 L687.50 616.05 L688.50 615.32 L689.50 614.58 L690.50 613.84 L691.50 613.09 L692.50 612.33 L693.50 611.57 L694.50 610.81 L695.50 610.03 L696.50 609.26 L697.50 608.47 L698.50 607.69 L699.50 606.89 L700.50 606.10 L701.50 605.30 L702.50 604.49 L703.50 603.69 L704.50 602.87 L705.50 602.06 L706.50 601.24 L707.50 600.42 L708.50 599.60 L709.50 598.77 L710.50 597.95 L711.50 597.12 L712.50 596.29 L713.50 595.45 L714.50 594.62 L715.50 593.78 L716.50 592.95 L717.50 592.11 L718.50 591.28 L719.50 590.44 L720.50 589.60 L721.50 588.77 L722.50 587.93 L723.50 587.10 L724.50 586.26 L725.50 585.43 L726.50 584.60 L727.50 583.77 L728.50 582.94 L729.50 582.12 L730.50 581.30 L731.50 580.47 L732.50 579.66 L733.50 578.84 L734.50 578.03 L735.50 577.22 L736.50 576.42 L737.50 575.62 L738.50 574.82 L739.50 574.03 L740.50 573.24 L741.50 572.46 L742.50 571.68 L743.50 570.91 L744.50 570.14 L745.50 569.38 L746.50 568.62 L747.50 567.87 L748.50 567.13 L749.50 566.39 L750.50 565.66 L751.50 564.94 L752.50 564.22 L753.50 563.51 L754.50 562.81 L755.50 562.12 L756.50 561.43 L757.50 560.76 L758.50 560.09 L759.50 559.43 L760.50 558.78 L761.50 558.14 L762.50 557.50 L763.50 556.88 L764.50 556.27 L765.50 555.67 L766.50 555.07 L767.50 554.49 L768.50 553.92 L769.50 553.36 L770.50 552.81 L771.50 552.28 L772.50 551.75 L773.50 551.24 L774.50 550.73 L775.50 550.24 L776.50 549.77 L777.50 549.30 L778.50 548.85 L779.50 548.41 L780.50 547.99 L781.50 547.57 L782.50 547.17 L783.50 546.78 L784.50 546.41 L785.50 546.05 L786.50 545.70 L787.50 545.36 L788.50 545.03 L789.50 544.72 L790.50 544.42 L791.50 544.13 L792.50 543.86 L793.50 543.59 L794.50 543.34 L795.50 543.10 L796.50 542.88 L797.50 542.66 L798.50 542.46 L799.50 542.27 L800.50 542.09 L801.50 541.92 L802.50 541.77 L803.50 541.62 L804.50 541.49 L805.50 541.37 L806.50 541.27 L807.50 541.17 L808.50 541.09 L809.50 541.01 L810.50 540.95 L811.50 540.90 L812.50 540.87 L813.50 540.84 L814.50 540.83 L815.50 540.82 L816.50 540.83 L817.50 540.85 L818.50 540.88 L819.50 540.92 L820.50 540.98 L821.50 541.04 L822.50 541.12 L823.50 541.21 L824.50 541.30 L825.50 541.41 L826.50 541.53 L827.50 541.66 L828.50 541.81 L829.50 541.96 L830.50 542.12 L831.50 542.30 L832.50 542.48 L833.50 542.68 L834.50 542.89 L835.50 543.10 L836.50 543.33 L837.50 543.57 L838.50 543.82 L839.50 544.08 L840.50 544.35 L841.50 544.63 L842.50 544.92 L843.50 545.22 L844.50 545.53 L845.50 545.86 L846.50 546.19 L847.50 546.53 L848.50 546.88 L849.50 547.25 L850.50 547.62 L851.50 548.00 L852.50 548.40 L853.50 548.80 L854.50 549.21 L855.50 549.64 L856.50 550.07 L857.50 550.51 L858.50 550.96 L859.50 551.43 L860.50 551.90 L861.50 552.38 L862.50 552.87 L863.50 553.37 L864.50 553.88 L865.50 554.40 L866.50 554.93 L867.50 555.47 L868.50 556.02 L869.50 556.58 L870.50 557.14 L871.50 557.72 L872.50 558.30 L873.50 558.90 L874.50 559.50 L875.50 560.11 L876.50 560.73 L877.50 561.36 L878.50 561.99 L879.50 562.63 L880.50 563.28 L881.50 563.94 L882.50 564.60 L883.50 565.27 L884.50 565.95 L885.50 566.64 L886.50 567.33 L887.50 568.02 L888.50 568.73 L889.50 569.44 L890.50 570.15 L891.50 570.87 L892.50 571.60 L893.50 572.33 L894.50 573.06 L895.50 573.80 L896.50 574.55 L897.50 575.30 L898.50 576.05 L899.50 576.81 L900.50 577.57 L901.50 578.33 L902.50 579.10 L903.50 579.87 L904.50 580.65 L905.50 581.43 L906.50 582.21 L907.50 582.99 L908.50 583.77 L909.50 584.56 L910.50 585.35 L911.50 586.14 L912.50 586.94 L913.50 587.73 L914.50 588.53 L915.50 589.33 L916.50 590.13 L917.50 590.93 L918.50 591.73 L919.50 592.53 L920.50 593.33 L921.50 594.13 L922.50 594.93 L923.50 595.73 L924.50 596.53 L925.50 597.33 L926.50 598.13 L927.50 598.92 L928.50 599.72 L929.50 600.52 L930.50 601.31 L931.50 602.10 L932.50 602.89 L933.50 603.68 L934.50 604.46 L935.50 605.25 L936.50 606.03 L937.50 606.81 L938.50 607.58 L939.50 608.35 L940.50 609.12 L941.50 609.89 L942.50 610.65 L943.50 611.40 L944.50 612.16 L945.50 612.90 L946.50 613.65 L947.50 614.38 L948.50 615.12 L949.50 615.84 L950.50 616.56 L951.50 617.28 L952.50 617.99 L953.50 618.69 L954.50 619.38 L955.50 620.07 L956.50 620.75 L957.50 621.42 L958.50 622.08 L959.50 622.73 L960.50 623.38 L961.50 624.02 L962.50 624.64 L963.50 625.26 L964.50 625.87 L965.50 626.47 L966.50 627.06 L967.50 627.63 L968.50 628.20 L969.50 628.75 L970.50 629.30 L971.50 629.83 L972.50 630.35 L973.50 630.86 L974.50 631.35 L975.50 631.83 L976.50 632.30 L977.50 632.76 L978.50 633.20 L979.50 633.63 L980.50 634.04 L981.50 634.44 L982.50 634.83 L983.50 635.20 L984.50 635.55 L985.50 635.89 L986.50 636.22 L987.50 636.52 L988.50 636.82 L989.50 637.09 L990.50 637.35 L991.50 637.60 L992.50 637.82 L993.50 638.03 L994.50 638.23 L995.50 638.41 L996.50 638.57 L997.50 638.71 L998.50 638.84 L999.50 638.95 L1000.50 639.05 L1001.50 639.13 L1002.50 639.19 L1003.50 639.23 L1004.50 639.26 L1005.50 639.27 L1006.50 639.26 L1007.50 639.24 L1008.50 639.19 L1009.50 639.13 L1010.50 639.06 L1011.50 638.96 L1012.50 638.85 L1013.50 638.72 L1014.50 638.57 L1015.50 638.40 L1016.50 638.21 L1017.50 638.01 L1018.50 637.79 L1019.50 637.55 L1020.50 637.29 L1021.50 637.02 L1022.50 636.72 L1023.50 636.41 L1024.50 636.07 L1025.50 635.72 L1026.50 635.35 L1027.50 634.96 L1028.50 634.55 L1029.50 634.13 L1030.50 633.68 L1031.50 633.22 L1032.50 632.74 L1033.50 632.24 L1034.50 631.72 L1035.50 631.18 L1036.50 630.63 L1037.50 630.06 L1038.50 629.48 L1039.50 628.88 L1040.50 628.26 L1041.50 627.62 L1042.50 626.97 L1043.50 626.31 L1044.50 625.62 L1045.50 624.93 L1046.50 624.22 L1047.50 623.49 L1048.50 622.75 L1049.50 621.99 L1050.50 621.23 L1051.50 620.44 L1052.50 619.65 L1053.50 618.84 L1054.50 618.01 L1055.50 617.18 L1056.50 616.33 L1057.50 615.47 L1058.50 614.59 L1059.50 613.71 L1060.50 612.81 L1061.50 611.90 L1062.50 610.98 L1063.50 610.05 L1064.50 609.11 L1065.50 608.16 L1066.50 607.19 L1067.50 606.22 L1068.50 605.24 L1069.50 604.24 L1070.50 603.24 L1071.50 602.23 L1072.50 601.21 L1073.50 600.18 L1074.50 599.14 L1075.50 598.09 L1076.50 597.03 L1077.50 595.97 L1078.50 594.90 L1079.50 593.82 L1080.50 592.73 L1081.50 591.64 L1082.50 590.54 L1083.50 589.43 L1084.50 588.32 L1085.50 587.20 L1086.50 586.07 L1087.50 584.94 L1088.50 583.80 L1089.50 582.66 L1090.50 581.51 L1091.50 580.36 L1092.50 579.20 L1093.50 578.04 L1094.50 576.87 L1095.50 575.70 L1096.50 574.53 L1097.50 573.35 L1098.50 572.17 L1099.50 570.99 L1100.50 569.80 L1101.50 568.61 L1102.50 567.41 L1103.50 566.21 L1104.50 565.01 L1105.50 563.81 L1106.50 562.60 L1107.50 561.40 L1108.50 560.19 L1109.50 558.97 L1110.50 557.76 L1111.50 556.55 L1112.50 555.33 L1113.50 554.11 L1114.50 552.89 L1115.50 551.67 L1116.50 550.45 L1117.50 549.23 L1118.50 548.01 L1119.50 546.78 L1120.50 545.56 L1121.50 544.34 L1122.50 543.12 L1123.50 541.89 L1124.50 540.67 L1125.50 539.45 L1126.50 538.23 L1127.50 537.01 L1128.50 535.79 L1129.50 534.57 L1130.50 533.35 L1131.50 532.14 L1132.50 530.92 L1133.50 529.71 L1134.50 528.50 L1135.50 527.30 L1136.50 526.09 L1137.50 524.89 L1138.50 523.69 L1139.50 522.49 L1140.50 521.29 L1141.50 520.10 L1142.50 518.91 L1143.50 517.73 L1144.50 516.55 L1145.50 515.37 L1146.50 514.19 L1147.50 513.02 L1148.50 511.86 L1149.50 510.70 L1150.50 509.54 L1151.50 508.39 L1152.50 507.24 L1153.50 506.09 L1154.50 504.96 L1155.50 503.82 L1156.50 502.70 L1157.50 501.57 L1158.50 500.46 L1159.50 499.35 L1160.50 498.24 L1161.50 497.15 L1162.50 496.05 L1163.50 494.97 L1164.50 493.89 L1165.50 492.82 L1166.50 491.75 L1167.50 490.69 L1168.50 489.64 L1169.50 488.60 L1170.50 487.57 L1171.50 486.54 L1172.50 485.52 L1173.50 484.51 L1174.50 483.50 L1175.50 482.51 L1176.50 481.52 L1177.50 480.54 L1178.50 479.57 L1179.50 478.61 L1180.50 477.66 L1181.50 476.72 L1182.50 475.79 L1183.50 474.86 L1184.50 473.95 L1185.50 473.05 L1186.50 472.15 L1187.50 471.27 L1188.50 470.40 L1189.50 469.54 L1190.50 468.68 L1191.50 467.84 L1192.50 467.01 L1193.50 466.20 L1194.50 465.39 L1195.50 464.59 L1196.50 463.81 L1197.50 463.04 L1198.50 462.28 L1199.50 461.53 L1200.50 460.79 L1201.50 460.07 L1202.50 459.36 L1203.50 458.66 L1204.50 457.98 L1205.50 457.31 L1206.50 456.65 L1207.50 456.00 L1208.50 455.37 L1209.50 454.75 L1210.50 454.15 L1211.50 453.56 L1212.50 452.98 L1213.50 452.42 L1214.50 451.87 L1215.50 451.34 L1216.50 450.82 L1217.50 450.31 L1218.50 449.83 L1219.50 449.35 L1220.50 448.90 L1221.50 448.45 L1222.50 448.03 L1223.50 447.62 L1224.50 447.22 L1225.50 446.84 L1226.50 446.48 L1227.50 446.13 L1228.50 445.80 L1229.50 445.48 L1230.50 445.18 L1231.50 444.90 L1232.50 444.63 L1233.50 444.38 L1234.50 444.14 L1235.50 443.92 L1236.50 443.72 L1237.50 443.53 L1238.50 443.36 L1239.50 443.21 L1240.50 443.07 L1241.50 442.95 L1242.50 442.84 L1243.50 442.75 L1244.50 442.68 L1245.50 442.63 L1246.50 442.59 L1247.50 442.57 L1248.50 442.56 L1249.50 442.58 L1250.50 442.61 L1251.50 442.65 L1252.50 442.72 L1253.50 442.80 L1254.50 442.89 L1255.50 443.01 L1256.50 443.14 L1257.50 443.29 L1258.50 443.46 L1259.50 443.64 L1260.50 443.84 L1261.50 444.06 L1262.50 444.30 L1263.50 444.55 L1264.50 444.82 L1265.50 445.11 L1266.50 445.42 L1267.50 445.74 L1268.50 446.08 L1269.50 446.43 L1270.50 446.80 L1271.50 447.18 L1272.50 447.58 L1273.50 448.00 L1274.50 448.43 L1275.50 448.88 L1276.50 449.34 L1277.50 449.81 L1278.50 450.30 L1279.50 450.80 L1280.50 451.31 L1281.50 451.84 L1282.50 452.39 L1283.50 452.94 L1284.50 453.51 L1285.50 454.09 L1286.50 454.68 L1287.50 455.28 L1288.50 455.90 L1289.50 456.53 L1290.50 457.17 L1291.50 457.82 L1292.50 458.48 L1293.50 459.15 L1294.50 459.83 L1295.50 460.52 L1296.50 461.23 L1297.50 461.94 L1298.50 462.66 L1299.50 463.39 L1300.50 464.13 L1301.50 464.88 L1302.50 465.64 L1303.50 466.40 L1304.50 467.18 L1305.50 467.96 L1306.50 468.75 L1307.50 469.54 L1308.50 470.34 L1309.50 471.15 L1310.50 471.97 L1311.50 472.79 L1312.50 473.61 L1313.50 474.44 L1314.50 475.28 L1315.50 476.12 L1316.50 476.97 L1317.50 477.81 L1318.50 478.67 L1319.50 479.52 L1320.50 480.38 L1321.50 481.24 L1322.50 482.11 L1323.50 482.97 L1324.50 483.84 L1325.50 484.71 L1326.50 485.58 L1327.50 486.45 L1328.50 487.32 L1329.50 488.19 L1330.50 489.06 L1331.50 489.94 L1332.50 490.81 L1333.50 491.68 L1334.50 492.54 L1335.50 493.41 L1336.50 494.28 L1337.50 495.14 L1338.50 496.00 L1339.50 496.86 L1340.50 497.71 L1341.50 498.56 L1342.50 499.41 L1343.50 500.25 L1344.50 501.09 L1345.50 501.93 L1346.50 502.76 L1347.50 503.58 L1348.50 504.40 L1349.50 505.21 L1350.50 506.02 L1351.50 506.82 L1352.50 507.61 L1353.50 508.40 L1354.50 509.18 L1355.50 509.95 L1356.50 510.71 L1357.50 511.47 L1358.50 512.22 L1359.50 512.95 L1360.50 513.68 L1361.50 514.40 L1362.50 515.11 L1363.50 515.81" fill="none" stroke="#0000ff" stroke-width="6.4" stroke-dasharray="6.2 4.6" stroke-linejoin="miter" stroke-linecap="butt"/><path d="M196.50 881.75 L206.10 788.40 L230.60 998.50 L259.40 764.70 L262.50 768.50 L265.50 780.00 L267.70 797.80 L272.60 832.60 L275.30 853.10 L279.50 886.10 L283.60 919.20 L285.60 933.00 L287.20 942.50 L288.50 946.30 L289.80 942.50 L291.40 933.00 L293.50 919.20 L298.50 886.10 L303.40 853.10 L306.00 843.00 L308.80 838.00 L311.70 836.50 L316.00 837.50 L321.60 841.50 L331.80 848.50 L340.30 855.90 L347.80 863.30 L354.20 871.40 L360.60 878.80 L368.00 887.20 L376.60 894.50 L385.10 900.50 L391.00 902.60 L397.00 903.30 L398.01 903.28 L399.02 903.22 L400.03 903.13 L401.04 903.00 L402.05 902.82 L403.06 902.62 L404.07 902.37 L405.08 902.09 L406.09 901.77 L407.10 901.42 L408.11 901.03 L409.12 900.61 L410.13 900.16 L411.14 899.67 L412.15 899.16 L413.16 898.61 L414.17 898.03 L415.18 897.43 L416.18 896.80 L417.19 896.14 L418.20 895.46 L419.21 894.75 L420.22 894.02 L421.23 893.27 L422.24 892.51 L423.25 891.72 L424.26 890.92 L425.27 890.11 L426.28 889.28 L427.29 888.44 L428.30 887.59 L429.31 886.73 L430.32 885.87 L431.33 885.00 L432.34 884.12 L433.35 883.25 L434.36 882.38 L435.37 881.50 L436.38 880.63 L437.39 879.77 L438.40 878.91 L439.41 878.06 L440.42 877.22 L441.43 876.39 L442.44 875.58 L443.45 874.78 L444.46 873.99 L445.47 873.23 L446.48 872.48 L447.49 871.75 L448.50 871.04 L449.51 870.36 L450.52 869.70 L451.52 869.07 L452.53 868.47 L453.54 867.89 L454.55 867.34 L455.56 866.83 L456.57 866.34 L457.58 865.89 L458.59 865.47 L459.60 865.08 L460.61 864.73 L461.62 864.41 L462.63 864.13 L463.64 863.88 L464.65 863.68 L465.66 863.50 L466.67 863.37 L467.68 863.28 L468.69 863.22 L469.70 863.20 L470.70 863.22 L471.71 863.26 L472.71 863.34 L473.72 863.45 L474.72 863.60 L475.72 863.77 L476.73 863.97 L477.73 864.21 L478.74 864.47 L479.74 864.77 L480.74 865.09 L481.75 865.45 L482.75 865.83 L483.76 866.23 L484.76 866.67 L485.76 867.13 L486.77 867.61 L487.77 868.12 L488.78 868.65 L489.78 869.21 L490.78 869.78 L491.79 870.38 L492.79 870.99 L493.80 871.62 L494.80 872.27 L495.80 872.94 L496.81 873.62 L497.81 874.32 L498.82 875.02 L499.82 875.74 L500.82 876.47 L501.83 877.21 L502.83 877.95 L503.84 878.70 L504.84 879.45 L505.84 880.21 L506.85 880.97 L507.85 881.73 L508.86 882.49 L509.86 883.25 L510.86 884.00 L511.87 884.75 L512.87 885.49 L513.88 886.23 L514.88 886.96 L515.88 887.68 L516.89 888.38 L517.89 889.08 L518.90 889.76 L519.90 890.42 L520.90 891.08 L521.91 891.71 L522.91 892.32 L523.92 892.92 L524.92 893.49 L525.92 894.05 L526.93 894.58 L527.93 895.09 L528.94 895.57 L529.94 896.03 L530.94 896.47 L531.95 896.87 L532.95 897.25 L533.96 897.61 L534.96 897.93 L535.96 898.23 L536.97 898.49 L537.97 898.73 L538.98 898.93 L539.98 899.10 L540.98 899.25 L541.99 899.36 L542.99 899.44 L544.00 899.48 L545.00 899.50 L546.00 899.48 L547.00 899.43 L548.00 899.34 L549.01 899.21 L550.01 899.05 L551.01 898.86 L552.01 898.63 L553.01 898.36 L554.01 898.07 L555.01 897.73 L556.02 897.37 L557.02 896.97 L558.02 896.55 L559.02 896.09 L560.02 895.60 L561.02 895.09 L562.02 894.55 L563.02 893.98 L564.03 893.38 L565.03 892.77 L566.03 892.13 L567.03 891.46 L568.03 890.78 L569.03 890.08 L570.03 889.35 L571.04 888.62 L572.04 887.86 L573.04 887.10 L574.04 886.32 L575.04 885.53 L576.04 884.73 L577.04 883.92 L578.05 883.11 L579.05 882.29 L580.05 881.47 L581.05 880.65 L582.05 879.83 L583.05 879.01 L584.05 878.19 L585.06 877.38 L586.06 876.57 L587.06 875.77 L588.06 874.98 L589.06 874.20 L590.06 873.44 L591.06 872.68 L592.07 871.95 L593.07 871.23 L594.07 870.52 L595.07 869.84 L596.07 869.17 L597.07 868.53 L598.07 867.92 L599.08 867.32 L600.08 866.75 L601.08 866.21 L602.08 865.70 L603.08 865.21 L604.08 864.75 L605.08 864.33 L606.08 863.93 L607.09 863.57 L608.09 863.23 L609.09 862.94 L610.09 862.67 L611.09 862.44 L612.09 862.25 L613.09 862.09 L614.10 861.96 L615.10 861.87 L616.10 861.82 L617.10 861.80 L618.10 861.82 L619.10 861.89 L620.10 862.00 L621.10 862.15 L622.10 862.35 L623.10 862.59 L624.10 862.87 L625.10 863.19 L626.10 863.56 L627.10 863.96 L628.10 864.41 L629.10 864.90 L630.10 865.42 L631.10 865.99 L632.10 866.59 L633.10 867.23 L634.10 867.90 L635.10 868.60 L636.10 869.34 L637.10 870.11 L638.10 870.91 L639.10 871.74 L640.10 872.60 L641.10 873.48 L642.10 874.39 L643.10 875.32 L644.10 876.28 L645.10 877.25 L646.10 878.25 L647.10 879.26 L648.10 880.28 L649.10 881.32 L650.10 882.38 L651.10 883.44 L652.10 884.51 L653.10 885.59 L654.10 886.67 L655.10 887.76 L656.10 888.85 L657.10 889.94 L658.10 891.03 L659.10 892.11 L660.10 893.19 L661.10 894.26 L662.10 895.32 L663.10 896.38 L664.10 897.42 L665.10 898.44 L666.10 899.45 L667.10 900.45 L668.10 901.42 L669.10 902.38 L670.10 903.31 L671.10 904.22 L672.10 905.10 L673.10 905.96 L674.10 906.79 L675.10 907.59 L676.10 908.36 L677.10 909.10 L678.10 909.80 L679.10 910.47 L680.10 911.11 L681.10 911.71 L682.10 912.28 L683.10 912.80 L684.10 913.29 L685.10 913.74 L686.10 914.14 L687.10 914.51 L688.10 914.83 L689.10 915.11 L690.10 915.35 L691.10 915.55 L692.10 915.70 L693.10 915.81 L694.10 915.88 L695.10 915.90 L696.11 915.87 L697.12 915.80 L698.12 915.67 L699.13 915.49 L700.14 915.27 L701.15 914.99 L702.15 914.66 L703.16 914.28 L704.17 913.86 L705.18 913.39 L706.18 912.87 L707.19 912.30 L708.20 911.69 L709.21 911.04 L710.21 910.34 L711.22 909.60 L712.23 908.82 L713.24 908.00 L714.24 907.14 L715.25 906.24 L716.26 905.31 L717.27 904.34 L718.27 903.34 L719.28 902.31 L720.29 901.26 L721.30 900.17 L722.31 899.06 L723.31 897.92 L724.32 896.76 L725.33 895.58 L726.34 894.38 L727.34 893.16 L728.35 891.93 L729.36 890.69 L730.37 889.43 L731.37 888.17 L732.38 886.90 L733.39 885.62 L734.40 884.34 L735.40 883.06 L736.41 881.78 L737.42 880.50 L738.43 879.23 L739.43 877.97 L740.44 876.71 L741.45 875.47 L742.46 874.24 L743.46 873.02 L744.47 871.82 L745.48 870.64 L746.49 869.48 L747.49 868.34 L748.50 867.23 L749.51 866.14 L750.52 865.09 L751.53 864.06 L752.53 863.06 L753.54 862.09 L754.55 861.16 L755.56 860.26 L756.56 859.40 L757.57 858.58 L758.58 857.80 L759.59 857.06 L760.59 856.36 L761.60 855.71 L762.61 855.10 L763.62 854.53 L764.62 854.01 L765.63 853.54 L766.64 853.12 L767.65 852.74 L768.65 852.41 L769.66 852.13 L770.67 851.91 L771.68 851.73 L772.68 851.60 L773.69 851.53 L774.70 851.50 L775.71 851.53 L776.72 851.61 L777.73 851.74 L778.74 851.92 L779.74 852.16 L780.75 852.45 L781.76 852.79 L782.77 853.18 L783.78 853.62 L784.79 854.11 L785.80 854.65 L786.81 855.24 L787.82 855.88 L788.82 856.56 L789.83 857.29 L790.84 858.06 L791.85 858.87 L792.86 859.72 L793.87 860.62 L794.88 861.55 L795.89 862.52 L796.89 863.52 L797.90 864.56 L798.91 865.63 L799.92 866.74 L800.93 867.87 L801.94 869.02 L802.95 870.21 L803.96 871.41 L804.97 872.64 L805.97 873.89 L806.98 875.16 L807.99 876.44 L809.00 877.73 L810.01 879.04 L811.02 880.35 L812.03 881.67 L813.04 883.00 L814.05 884.33 L815.05 885.67 L816.06 887.00 L817.07 888.33 L818.08 889.65 L819.09 890.96 L820.10 892.27 L821.11 893.56 L822.12 894.84 L823.13 896.11 L824.13 897.36 L825.14 898.59 L826.15 899.79 L827.16 900.98 L828.17 902.13 L829.18 903.26 L830.19 904.37 L831.20 905.44 L832.21 906.48 L833.21 907.48 L834.22 908.45 L835.23 909.38 L836.24 910.28 L837.25 911.13 L838.26 911.94 L839.27 912.71 L840.28 913.44 L841.28 914.12 L842.29 914.76 L843.30 915.35 L844.31 915.89 L845.32 916.38 L846.33 916.82 L847.34 917.21 L848.35 917.55 L849.36 917.84 L850.36 918.08 L851.37 918.26 L852.38 918.39 L853.39 918.47 L854.40 918.50 L855.40 918.48 L856.40 918.42 L857.40 918.32 L858.40 918.18 L859.41 918.00 L860.41 917.77 L861.41 917.51 L862.41 917.21 L863.41 916.87 L864.41 916.50 L865.41 916.08 L866.41 915.63 L867.42 915.14 L868.42 914.62 L869.42 914.06 L870.42 913.46 L871.42 912.83 L872.42 912.17 L873.42 911.48 L874.42 910.75 L875.42 910.00 L876.43 909.22 L877.43 908.40 L878.43 907.56 L879.43 906.70 L880.43 905.81 L881.43 904.90 L882.43 903.96 L883.43 903.00 L884.43 902.03 L885.44 901.03 L886.44 900.02 L887.44 898.99 L888.44 897.95 L889.44 896.89 L890.44 895.83 L891.44 894.75 L892.44 893.66 L893.45 892.57 L894.45 891.47 L895.45 890.37 L896.45 889.26 L897.45 888.15 L898.45 887.04 L899.45 885.93 L900.45 884.83 L901.45 883.73 L902.46 882.64 L903.46 881.55 L904.46 880.47 L905.46 879.41 L906.46 878.35 L907.46 877.31 L908.46 876.28 L909.46 875.27 L910.47 874.27 L911.47 873.30 L912.47 872.34 L913.47 871.40 L914.47 870.49 L915.47 869.60 L916.47 868.74 L917.47 867.90 L918.47 867.08 L919.48 866.30 L920.48 865.55 L921.48 864.82 L922.48 864.13 L923.48 863.47 L924.48 862.84 L925.48 862.24 L926.48 861.68 L927.48 861.16 L928.49 860.67 L929.49 860.22 L930.49 859.80 L931.49 859.43 L932.49 859.09 L933.49 858.79 L934.49 858.53 L935.49 858.30 L936.50 858.12 L937.50 857.98 L938.50 857.88 L939.50 857.82 L940.50 857.80 L941.50 857.82 L942.50 857.87 L943.50 857.95 L944.50 858.07 L945.50 858.23 L946.50 858.41 L947.50 858.63 L948.50 858.88 L949.50 859.17 L950.50 859.49 L951.50 859.83 L952.50 860.21 L953.50 860.62 L954.50 861.06 L955.50 861.53 L956.50 862.03 L957.50 862.55 L958.50 863.10 L959.50 863.68 L960.50 864.28 L961.50 864.90 L962.50 865.55 L963.50 866.22 L964.50 866.91 L965.50 867.62 L966.50 868.35 L967.50 869.10 L968.50 869.86 L969.50 870.64 L970.50 871.43 L971.50 872.24 L972.50 873.05 L973.50 873.88 L974.50 874.71 L975.50 875.56 L976.50 876.40 L977.50 877.26 L978.50 878.11 L979.50 878.97 L980.50 879.83 L981.50 880.69 L982.50 881.54 L983.50 882.40 L984.50 883.24 L985.50 884.09 L986.50 884.92 L987.50 885.75 L988.50 886.56 L989.50 887.37 L990.50 888.16 L991.50 888.94 L992.50 889.70 L993.50 890.45 L994.50 891.18 L995.50 891.89 L996.50 892.58 L997.50 893.25 L998.50 893.90 L999.50 894.52 L1000.50 895.12 L1001.50 895.70 L1002.50 896.25 L1003.50 896.77 L1004.50 897.27 L1005.50 897.74 L1006.50 898.18 L1007.50 898.59 L1008.50 898.97 L1009.50 899.31 L1010.50 899.63 L1011.50 899.92 L1012.50 900.17 L1013.50 900.39 L1014.50 900.57 L1015.50 900.73 L1016.50 900.85 L1017.50 900.93 L1018.50 900.98 L1019.50 901.00 L1020.50 900.99 L1021.50 900.95 L1022.50 900.88 L1023.51 900.79 L1024.51 900.67 L1025.51 900.53 L1026.51 900.36 L1027.51 900.16 L1028.51 899.94 L1029.51 899.70 L1030.52 899.43 L1031.52 899.14 L1032.52 898.83 L1033.52 898.49 L1034.52 898.13 L1035.52 897.76 L1036.52 897.36 L1037.53 896.94 L1038.53 896.50 L1039.53 896.05 L1040.53 895.58 L1041.53 895.09 L1042.53 894.59 L1043.53 894.08 L1044.54 893.55 L1045.54 893.01 L1046.54 892.46 L1047.54 891.90 L1048.54 891.33 L1049.54 890.75 L1050.54 890.17 L1051.55 889.58 L1052.55 888.99 L1053.55 888.40 L1054.55 887.80 L1055.55 887.20 L1056.55 886.60 L1057.55 886.01 L1058.55 885.42 L1059.56 884.83 L1060.56 884.25 L1061.56 883.67 L1062.56 883.10 L1063.56 882.54 L1064.56 881.99 L1065.56 881.45 L1066.57 880.92 L1067.57 880.41 L1068.57 879.91 L1069.57 879.42 L1070.57 878.95 L1071.57 878.50 L1072.57 878.06 L1073.58 877.64 L1074.58 877.24 L1075.58 876.87 L1076.58 876.51 L1077.58 876.17 L1078.58 875.86 L1079.58 875.57 L1080.59 875.30 L1081.59 875.06 L1082.59 874.84 L1083.59 874.64 L1084.59 874.47 L1085.59 874.33 L1086.59 874.21 L1087.60 874.12 L1088.60 874.05 L1089.60 874.01 L1090.60 874.00 L1091.60 874.01 L1092.61 874.04 L1093.61 874.10 L1094.61 874.17 L1095.62 874.27 L1096.62 874.38 L1097.62 874.52 L1098.63 874.68 L1099.63 874.86 L1100.63 875.05 L1101.64 875.27 L1102.64 875.50 L1103.64 875.75 L1104.65 876.02 L1105.65 876.30 L1106.65 876.60 L1107.66 876.91 L1108.66 877.24 L1109.66 877.57 L1110.67 877.92 L1111.67 878.29 L1112.67 878.66 L1113.68 879.04 L1114.68 879.42 L1115.68 879.82 L1116.69 880.22 L1117.69 880.62 L1118.69 881.03 L1119.70 881.44 L1120.70 881.85 L1121.70 882.26 L1122.71 882.67 L1123.71 883.08 L1124.71 883.48 L1125.72 883.88 L1126.72 884.28 L1127.72 884.66 L1128.73 885.04 L1129.73 885.41 L1130.73 885.77 L1131.74 886.13 L1132.74 886.46 L1133.74 886.79 L1134.75 887.10 L1135.75 887.40 L1136.75 887.68 L1137.76 887.95 L1138.76 888.20 L1139.76 888.43 L1140.77 888.65 L1141.77 888.84 L1142.77 889.02 L1143.78 889.18 L1144.78 889.32 L1145.78 889.43 L1146.79 889.53 L1147.79 889.60 L1148.79 889.66 L1149.80 889.69 L1150.80 889.70 L1151.80 889.69 L1152.81 889.65 L1153.81 889.58 L1154.81 889.49 L1155.81 889.37 L1156.82 889.22 L1157.82 889.05 L1158.82 888.86 L1159.82 888.64 L1160.83 888.39 L1161.83 888.12 L1162.83 887.83 L1163.84 887.51 L1164.84 887.17 L1165.84 886.81 L1166.84 886.43 L1167.85 886.03 L1168.85 885.61 L1169.85 885.16 L1170.85 884.70 L1171.86 884.23 L1172.86 883.73 L1173.86 883.23 L1174.87 882.70 L1175.87 882.17 L1176.87 881.62 L1177.87 881.05 L1178.88 880.48 L1179.88 879.90 L1180.88 879.31 L1181.88 878.71 L1182.89 878.11 L1183.89 877.50 L1184.89 876.89 L1185.90 876.28 L1186.90 875.66 L1187.90 875.04 L1188.90 874.42 L1189.91 873.81 L1190.91 873.20 L1191.91 872.59 L1192.92 871.99 L1193.92 871.39 L1194.92 870.80 L1195.92 870.22 L1196.93 869.65 L1197.93 869.08 L1198.93 868.53 L1199.93 868.00 L1200.94 867.47 L1201.94 866.97 L1202.94 866.47 L1203.95 866.00 L1204.95 865.54 L1205.95 865.09 L1206.95 864.67 L1207.96 864.27 L1208.96 863.89 L1209.96 863.53 L1210.96 863.19 L1211.97 862.87 L1212.97 862.58 L1213.97 862.31 L1214.98 862.06 L1215.98 861.84 L1216.98 861.65 L1217.98 861.48 L1218.99 861.33 L1219.99 861.21 L1220.99 861.12 L1221.99 861.05 L1223.00 861.01 L1224.00 861.00 L1225.01 861.02 L1226.02 861.07 L1227.02 861.16 L1228.03 861.29 L1229.04 861.46 L1230.05 861.65 L1231.05 861.89 L1232.06 862.16 L1233.07 862.46 L1234.08 862.80 L1235.08 863.18 L1236.09 863.58 L1237.10 864.02 L1238.11 864.49 L1239.11 864.99 L1240.12 865.52 L1241.13 866.08 L1242.14 866.67 L1243.14 867.29 L1244.15 867.93 L1245.16 868.60 L1246.17 869.29 L1247.17 870.01 L1248.18 870.75 L1249.19 871.51 L1250.20 872.29 L1251.21 873.08 L1252.21 873.90 L1253.22 874.73 L1254.23 875.58 L1255.24 876.44 L1256.24 877.31 L1257.25 878.20 L1258.26 879.09 L1259.27 879.99 L1260.27 880.90 L1261.28 881.81 L1262.29 882.72 L1263.30 883.64 L1264.30 884.56 L1265.31 885.48 L1266.32 886.39 L1267.33 887.30 L1268.33 888.21 L1269.34 889.11 L1270.35 890.00 L1271.36 890.89 L1272.36 891.76 L1273.37 892.62 L1274.38 893.47 L1275.39 894.30 L1276.39 895.12 L1277.40 895.91 L1278.41 896.69 L1279.42 897.45 L1280.43 898.19 L1281.43 898.91 L1282.44 899.60 L1283.45 900.27 L1284.46 900.91 L1285.46 901.53 L1286.47 902.12 L1287.48 902.68 L1288.49 903.21 L1289.49 903.71 L1290.50 904.18 L1291.51 904.62 L1292.52 905.02 L1293.52 905.40 L1294.53 905.74 L1295.54 906.04 L1296.55 906.31 L1297.55 906.55 L1298.56 906.74 L1299.57 906.91 L1300.58 907.04 L1301.58 907.13 L1302.59 907.18 L1303.60 907.20 L1304.60 907.18 L1305.61 907.10 L1306.61 906.98 L1307.62 906.80 L1308.62 906.58 L1309.63 906.31 L1310.63 905.99 L1311.64 905.62 L1312.64 905.20 L1313.65 904.74 L1314.65 904.23 L1315.66 903.68 L1316.66 903.08 L1317.67 902.44 L1318.67 901.75 L1319.68 901.03 L1320.68 900.26 L1321.69 899.46 L1322.69 898.61 L1323.70 897.73 L1324.70 896.81 L1325.71 895.86 L1326.71 894.88 L1327.72 893.87 L1328.72 892.82 L1329.73 891.75 L1330.73 890.65 L1331.74 889.53 L1332.74 888.38 L1333.75 887.21 L1334.75 886.02 L1335.76 884.82 L1336.76 883.59 L1337.77 882.36 L1338.77 881.11 L1339.78 879.85 L1340.78 878.58 L1341.79 877.30 L1342.79 876.02 L1343.80 874.74 L1344.80 873.46 L1345.81 872.18 L1346.81 870.90 L1347.82 869.62 L1348.82 868.35 L1349.83 867.09 L1350.83 865.84 L1351.84 864.61 L1352.84 863.38 L1353.85 862.18 L1354.85 860.99 L1355.86 859.82 L1356.86 858.67 L1357.87 857.55 L1358.87 856.45 L1359.88 855.38 L1360.88 854.33 L1361.89 853.32 L1362.89 852.34 L1363.90 851.39 L1364.70 850.65" fill="none" stroke="#ff0000" stroke-width="6.2" stroke-linejoin="round" stroke-miterlimit="4" stroke-linecap="butt"/><path d="M196.50 880.00 L196.83 878.69 L197.29 876.83 L197.84 874.64 L198.43 872.40 L199.03 870.33 L199.60 868.70 L200.15 867.49 L200.73 866.49 L201.31 865.68 L201.89 865.02 L202.45 864.47 L203.00 864.00 L203.52 863.61 L204.03 863.34 L204.53 863.18 L205.01 863.14 L205.50 863.21 L206.00 863.40 L206.51 863.73 L207.03 864.20 L207.54 864.79 L208.05 865.47 L208.54 866.21 L209.00 867.00 L209.41 867.81 L209.79 868.65 L210.14 869.56 L210.49 870.56 L210.87 871.70 L211.30 873.00 L211.78 874.51 L212.30 876.22 L212.84 878.06 L213.40 879.97 L213.96 881.87 L214.50 883.70 L215.02 885.48 L215.53 887.28 L216.03 889.07 L216.55 890.84 L217.10 892.59 L217.70 894.30 L218.34 895.96 L219.01 897.59 L219.72 899.19 L220.45 900.77 L221.21 902.33 L222.00 903.90 L222.84 905.48 L223.75 907.08 L224.69 908.67 L225.61 910.22 L226.50 911.70 L227.30 913.10 L228.00 914.40 L228.61 915.63 L229.18 916.80 L229.74 917.91 L230.34 918.98 L231.00 920.00 L231.73 921.04 L232.50 922.11 L233.31 923.14 L234.13 924.04 L234.96 924.75 L235.80 925.20 L236.62 925.35 L237.41 925.26 L238.23 924.97 L239.07 924.54 L239.99 924.04 L241.00 923.50 L242.13 922.93 L243.36 922.30 L244.66 921.58 L245.99 920.76 L247.31 919.84 L248.60 918.80 L249.87 917.61 L251.15 916.27 L252.43 914.83 L253.69 913.32 L254.91 911.80 L256.10 910.30 L257.23 908.81 L258.33 907.29 L259.39 905.76 L260.44 904.22 L261.47 902.69 L262.50 901.20 L263.52 899.74 L264.51 898.31 L265.50 896.89 L266.49 895.47 L267.48 894.04 L268.50 892.60 L269.55 891.13 L270.63 889.64 L271.72 888.15 L272.80 886.66 L273.87 885.17 L274.90 883.70 L275.88 882.26 L276.83 880.83 L277.75 879.41 L278.67 877.99 L279.62 876.56 L280.60 875.10 L281.61 873.60 L282.64 872.06 L283.69 870.51 L284.76 868.96 L285.86 867.45 L287.00 866.00 L288.19 864.61 L289.42 863.26 L290.69 861.95 L291.97 860.66 L293.24 859.38 L294.50 858.10 L295.71 856.81 L296.89 855.50 L298.07 854.21 L299.27 852.95 L300.54 851.74 L301.90 850.60 L303.36 849.49 L304.90 848.38 L306.49 847.32 L308.14 846.36 L309.81 845.54 L311.50 844.90 L313.23 844.44 L315.03 844.11 L316.85 843.92 L318.67 843.88 L320.47 843.97 L322.20 844.20 L323.88 844.60 L325.52 845.19 L327.14 845.91 L328.72 846.73 L330.28 847.60 L331.80 848.50 L333.29 849.43 L334.75 850.44 L336.18 851.51 L337.58 852.61 L338.95 853.75 L340.30 854.90 L341.62 856.06 L342.91 857.25 L344.18 858.46 L345.42 859.71 L346.63 860.99 L347.80 862.30 L348.93 863.68 L350.01 865.12 L351.07 866.60 L352.11 868.08 L353.15 869.52 L354.20 870.90 L355.26 872.19 L356.30 873.41 L357.34 874.60 L358.39 875.79 L359.48 877.01 L360.60 878.30 L361.76 879.68 L362.95 881.12 L364.16 882.60 L365.41 884.08 L366.69 885.52 L368.00 886.90 L369.37 888.21 L370.78 889.49 L372.23 890.74 L373.70 891.95 L375.16 893.14 L376.60 894.30 L377.98 895.46 L379.31 896.63 L380.64 897.77 L382.02 898.85 L383.49 899.84 L385.10 900.70 L387.02 901.44 L389.26 902.09 L391.58 902.65 L393.79 903.12 L395.67 903.50 L397.00 903.80 L398.01 903.78 L399.02 903.72 L400.03 903.62 L401.04 903.49 L402.05 903.31 L403.06 903.10 L404.07 902.85 L405.08 902.56 L406.09 902.23 L407.10 901.87 L408.11 901.47 L409.12 901.04 L410.13 900.57 L411.14 900.07 L412.15 899.54 L413.16 898.98 L414.17 898.39 L415.18 897.77 L416.18 897.12 L417.19 896.44 L418.20 895.74 L419.21 895.02 L420.22 894.27 L421.23 893.50 L422.24 892.71 L423.25 891.91 L424.26 891.08 L425.27 890.25 L426.28 889.39 L427.29 888.53 L428.30 887.66 L429.31 886.78 L430.32 885.89 L431.33 885.00 L432.34 884.10 L433.35 883.20 L434.36 882.30 L435.37 881.40 L436.38 880.51 L437.39 879.62 L438.40 878.74 L439.41 877.87 L440.42 877.01 L441.43 876.15 L442.44 875.32 L443.45 874.49 L444.46 873.69 L445.47 872.90 L446.48 872.13 L447.49 871.38 L448.50 870.66 L449.51 869.96 L450.52 869.28 L451.52 868.63 L452.53 868.01 L453.54 867.42 L454.55 866.86 L455.56 866.33 L456.57 865.83 L457.58 865.36 L458.59 864.93 L459.60 864.53 L460.61 864.17 L461.62 863.84 L462.63 863.55 L463.64 863.30 L464.65 863.09 L465.66 862.91 L466.67 862.78 L467.68 862.68 L468.69 862.62 L469.70 862.60 L470.70 862.62 L471.71 862.67 L472.71 862.75 L473.72 862.86 L474.72 863.01 L475.72 863.19 L476.73 863.40 L477.73 863.64 L478.74 863.91 L479.74 864.22 L480.74 864.55 L481.75 864.91 L482.75 865.30 L483.76 865.72 L484.76 866.17 L485.76 866.64 L486.77 867.14 L487.77 867.67 L488.78 868.22 L489.78 868.79 L490.78 869.38 L491.79 869.99 L492.79 870.63 L493.80 871.28 L494.80 871.95 L495.80 872.64 L496.81 873.34 L497.81 874.05 L498.82 874.78 L499.82 875.52 L500.82 876.27 L501.83 877.03 L502.83 877.80 L503.84 878.57 L504.84 879.35 L505.84 880.13 L506.85 880.91 L507.85 881.69 L508.86 882.47 L509.86 883.25 L510.86 884.03 L511.87 884.80 L512.87 885.57 L513.88 886.33 L514.88 887.08 L515.88 887.82 L516.89 888.55 L517.89 889.26 L518.90 889.96 L519.90 890.65 L520.90 891.32 L521.91 891.97 L522.91 892.61 L523.92 893.22 L524.92 893.81 L525.92 894.38 L526.93 894.93 L527.93 895.46 L528.94 895.96 L529.94 896.43 L530.94 896.88 L531.95 897.30 L532.95 897.69 L533.96 898.05 L534.96 898.38 L535.96 898.69 L536.97 898.96 L537.97 899.20 L538.98 899.41 L539.98 899.59 L540.98 899.74 L541.99 899.85 L542.99 899.93 L544.00 899.98 L545.00 900.00 L546.00 899.98 L547.00 899.93 L548.00 899.83 L549.01 899.71 L550.01 899.54 L551.01 899.34 L552.01 899.10 L553.01 898.83 L554.01 898.52 L555.01 898.18 L556.02 897.81 L557.02 897.40 L558.02 896.96 L559.02 896.49 L560.02 895.99 L561.02 895.46 L562.02 894.90 L563.02 894.32 L564.03 893.71 L565.03 893.07 L566.03 892.41 L567.03 891.73 L568.03 891.02 L569.03 890.30 L570.03 889.56 L571.04 888.80 L572.04 888.02 L573.04 887.24 L574.04 886.43 L575.04 885.62 L576.04 884.80 L577.04 883.97 L578.05 883.13 L579.05 882.29 L580.05 881.45 L581.05 880.60 L582.05 879.75 L583.05 878.91 L584.05 878.07 L585.06 877.23 L586.06 876.40 L587.06 875.58 L588.06 874.77 L589.06 873.96 L590.06 873.18 L591.06 872.40 L592.07 871.64 L593.07 870.90 L594.07 870.18 L595.07 869.47 L596.07 868.79 L597.07 868.13 L598.07 867.49 L599.08 866.88 L600.08 866.30 L601.08 865.74 L602.08 865.21 L603.08 864.71 L604.08 864.24 L605.08 863.80 L606.08 863.39 L607.09 863.02 L608.09 862.68 L609.09 862.37 L610.09 862.10 L611.09 861.86 L612.09 861.66 L613.09 861.49 L614.10 861.37 L615.10 861.27 L616.10 861.22 L617.10 861.20 L618.10 861.22 L619.10 861.29 L620.10 861.41 L621.10 861.56 L622.10 861.77 L623.10 862.02 L624.10 862.31 L625.10 862.65 L626.10 863.03 L627.10 863.45 L628.10 863.92 L629.10 864.42 L630.10 864.97 L631.10 865.56 L632.10 866.18 L633.10 866.85 L634.10 867.54 L635.10 868.28 L636.10 869.05 L637.10 869.85 L638.10 870.68 L639.10 871.55 L640.10 872.44 L641.10 873.36 L642.10 874.30 L643.10 875.27 L644.10 876.27 L645.10 877.28 L646.10 878.32 L647.10 879.37 L648.10 880.44 L649.10 881.52 L650.10 882.61 L651.10 883.72 L652.10 884.83 L653.10 885.96 L654.10 887.08 L655.10 888.22 L656.10 889.35 L657.10 890.48 L658.10 891.62 L659.10 892.74 L660.10 893.87 L661.10 894.98 L662.10 896.09 L663.10 897.18 L664.10 898.26 L665.10 899.33 L666.10 900.38 L667.10 901.42 L668.10 902.43 L669.10 903.42 L670.10 904.40 L671.10 905.34 L672.10 906.26 L673.10 907.15 L674.10 908.02 L675.10 908.85 L676.10 909.65 L677.10 910.42 L678.10 911.16 L679.10 911.85 L680.10 912.52 L681.10 913.14 L682.10 913.73 L683.10 914.28 L684.10 914.78 L685.10 915.25 L686.10 915.67 L687.10 916.05 L688.10 916.39 L689.10 916.68 L690.10 916.93 L691.10 917.14 L692.10 917.29 L693.10 917.41 L694.10 917.48 L695.10 917.50 L696.11 917.47 L697.12 917.39 L698.12 917.26 L699.13 917.07 L700.14 916.83 L701.15 916.54 L702.15 916.19 L703.16 915.79 L704.17 915.35 L705.18 914.85 L706.18 914.30 L707.19 913.70 L708.20 913.06 L709.21 912.37 L710.21 911.63 L711.22 910.85 L712.23 910.02 L713.24 909.16 L714.24 908.25 L715.25 907.30 L716.26 906.32 L717.27 905.30 L718.27 904.24 L719.28 903.16 L720.29 902.04 L721.30 900.89 L722.31 899.71 L723.31 898.51 L724.32 897.29 L725.33 896.04 L726.34 894.78 L727.34 893.49 L728.35 892.19 L729.36 890.88 L730.37 889.55 L731.37 888.22 L732.38 886.87 L733.39 885.53 L734.40 884.18 L735.40 882.82 L736.41 881.47 L737.42 880.13 L738.43 878.78 L739.43 877.45 L740.44 876.12 L741.45 874.81 L742.46 873.51 L743.46 872.22 L744.47 870.96 L745.48 869.71 L746.49 868.49 L747.49 867.29 L748.50 866.11 L749.51 864.96 L750.52 863.84 L751.53 862.76 L752.53 861.70 L753.54 860.68 L754.55 859.70 L755.56 858.75 L756.56 857.84 L757.57 856.98 L758.58 856.15 L759.59 855.37 L760.59 854.63 L761.60 853.94 L762.61 853.30 L763.62 852.70 L764.62 852.15 L765.63 851.65 L766.64 851.21 L767.65 850.81 L768.65 850.46 L769.66 850.17 L770.67 849.93 L771.68 849.74 L772.68 849.61 L773.69 849.53 L774.70 849.50 L775.71 849.53 L776.72 849.61 L777.73 849.75 L778.74 849.95 L779.74 850.19 L780.75 850.50 L781.76 850.86 L782.77 851.27 L783.78 851.73 L784.79 852.25 L785.80 852.82 L786.81 853.44 L787.82 854.11 L788.82 854.82 L789.83 855.59 L790.84 856.40 L791.85 857.25 L792.86 858.15 L793.87 859.09 L794.88 860.07 L795.89 861.09 L796.89 862.15 L797.90 863.24 L798.91 864.37 L799.92 865.53 L800.93 866.72 L801.94 867.94 L802.95 869.19 L803.96 870.46 L804.97 871.75 L805.97 873.06 L806.98 874.39 L807.99 875.74 L809.00 877.10 L810.01 878.48 L811.02 879.86 L812.03 881.25 L813.04 882.65 L814.05 884.05 L815.05 885.45 L816.06 886.85 L817.07 888.25 L818.08 889.64 L819.09 891.02 L820.10 892.40 L821.11 893.76 L822.12 895.11 L823.13 896.44 L824.13 897.75 L825.14 899.04 L826.15 900.31 L827.16 901.56 L828.17 902.78 L829.18 903.97 L830.19 905.13 L831.20 906.26 L832.21 907.35 L833.21 908.41 L834.22 909.43 L835.23 910.41 L836.24 911.35 L837.25 912.25 L838.26 913.10 L839.27 913.91 L840.28 914.68 L841.28 915.39 L842.29 916.06 L843.30 916.68 L844.31 917.25 L845.32 917.77 L846.33 918.23 L847.34 918.64 L848.35 919.00 L849.36 919.31 L850.36 919.55 L851.37 919.75 L852.38 919.89 L853.39 919.97 L854.40 920.00 L855.40 919.98 L856.40 919.92 L857.40 919.81 L858.40 919.66 L859.41 919.47 L860.41 919.24 L861.41 918.97 L862.41 918.66 L863.41 918.31 L864.41 917.91 L865.41 917.48 L866.41 917.01 L867.42 916.50 L868.42 915.96 L869.42 915.37 L870.42 914.75 L871.42 914.10 L872.42 913.41 L873.42 912.69 L874.42 911.93 L875.42 911.15 L876.43 910.33 L877.43 909.49 L878.43 908.61 L879.43 907.71 L880.43 906.79 L881.43 905.84 L882.43 904.86 L883.43 903.87 L884.43 902.85 L885.44 901.81 L886.44 900.76 L887.44 899.69 L888.44 898.60 L889.44 897.50 L890.44 896.39 L891.44 895.27 L892.44 894.14 L893.45 893.00 L894.45 891.86 L895.45 890.71 L896.45 889.55 L897.45 888.40 L898.45 887.25 L899.45 886.09 L900.45 884.94 L901.45 883.80 L902.46 882.66 L903.46 881.53 L904.46 880.41 L905.46 879.30 L906.46 878.20 L907.46 877.11 L908.46 876.04 L909.46 874.99 L910.47 873.95 L911.47 872.93 L912.47 871.94 L913.47 870.96 L914.47 870.01 L915.47 869.09 L916.47 868.19 L917.47 867.31 L918.47 866.47 L919.48 865.65 L920.48 864.87 L921.48 864.11 L922.48 863.39 L923.48 862.70 L924.48 862.05 L925.48 861.43 L926.48 860.84 L927.48 860.30 L928.49 859.79 L929.49 859.32 L930.49 858.89 L931.49 858.49 L932.49 858.14 L933.49 857.83 L934.49 857.56 L935.49 857.33 L936.50 857.14 L937.50 856.99 L938.50 856.88 L939.50 856.82 L940.50 856.80 L941.50 856.82 L942.50 856.87 L943.50 856.96 L944.50 857.08 L945.50 857.24 L946.50 857.43 L947.50 857.66 L948.50 857.92 L949.50 858.22 L950.50 858.55 L951.50 858.91 L952.50 859.30 L953.50 859.73 L954.50 860.18 L955.50 860.67 L956.50 861.18 L957.50 861.73 L958.50 862.30 L959.50 862.90 L960.50 863.52 L961.50 864.17 L962.50 864.84 L963.50 865.53 L964.50 866.25 L965.50 866.99 L966.50 867.74 L967.50 868.52 L968.50 869.31 L969.50 870.12 L970.50 870.94 L971.50 871.77 L972.50 872.62 L973.50 873.47 L974.50 874.34 L975.50 875.21 L976.50 876.09 L977.50 876.98 L978.50 877.86 L979.50 878.75 L980.50 879.65 L981.50 880.54 L982.50 881.42 L983.50 882.31 L984.50 883.19 L985.50 884.06 L986.50 884.93 L987.50 885.78 L988.50 886.63 L989.50 887.46 L990.50 888.28 L991.50 889.09 L992.50 889.88 L993.50 890.66 L994.50 891.41 L995.50 892.15 L996.50 892.87 L997.50 893.56 L998.50 894.23 L999.50 894.88 L1000.50 895.50 L1001.50 896.10 L1002.50 896.67 L1003.50 897.22 L1004.50 897.73 L1005.50 898.22 L1006.50 898.67 L1007.50 899.10 L1008.50 899.49 L1009.50 899.85 L1010.50 900.18 L1011.50 900.48 L1012.50 900.74 L1013.50 900.97 L1014.50 901.16 L1015.50 901.32 L1016.50 901.44 L1017.50 901.53 L1018.50 901.58 L1019.50 901.60 L1020.50 901.59 L1021.50 901.55 L1022.50 901.48 L1023.51 901.38 L1024.51 901.26 L1025.51 901.11 L1026.51 900.93 L1027.51 900.73 L1028.51 900.50 L1029.51 900.25 L1030.52 899.97 L1031.52 899.67 L1032.52 899.35 L1033.52 899.00 L1034.52 898.63 L1035.52 898.24 L1036.52 897.82 L1037.53 897.39 L1038.53 896.94 L1039.53 896.47 L1040.53 895.98 L1041.53 895.47 L1042.53 894.95 L1043.53 894.42 L1044.54 893.87 L1045.54 893.31 L1046.54 892.74 L1047.54 892.16 L1048.54 891.57 L1049.54 890.97 L1050.54 890.37 L1051.55 889.76 L1052.55 889.15 L1053.55 888.53 L1054.55 887.91 L1055.55 887.29 L1056.55 886.67 L1057.55 886.05 L1058.55 885.44 L1059.56 884.83 L1060.56 884.23 L1061.56 883.63 L1062.56 883.04 L1063.56 882.46 L1064.56 881.89 L1065.56 881.33 L1066.57 880.78 L1067.57 880.25 L1068.57 879.73 L1069.57 879.22 L1070.57 878.73 L1071.57 878.26 L1072.57 877.81 L1073.58 877.38 L1074.58 876.96 L1075.58 876.57 L1076.58 876.20 L1077.58 875.85 L1078.58 875.53 L1079.58 875.23 L1080.59 874.95 L1081.59 874.70 L1082.59 874.47 L1083.59 874.27 L1084.59 874.09 L1085.59 873.94 L1086.59 873.82 L1087.60 873.72 L1088.60 873.65 L1089.60 873.61 L1090.60 873.60 L1091.60 873.61 L1092.61 873.65 L1093.61 873.70 L1094.61 873.78 L1095.62 873.88 L1096.62 874.01 L1097.62 874.15 L1098.63 874.32 L1099.63 874.50 L1100.63 874.71 L1101.64 874.94 L1102.64 875.19 L1103.64 875.45 L1104.65 875.73 L1105.65 876.03 L1106.65 876.35 L1107.66 876.68 L1108.66 877.02 L1109.66 877.38 L1110.67 877.75 L1111.67 878.13 L1112.67 878.52 L1113.68 878.93 L1114.68 879.34 L1115.68 879.75 L1116.69 880.17 L1117.69 880.60 L1118.69 881.03 L1119.70 881.47 L1120.70 881.90 L1121.70 882.33 L1122.71 882.77 L1123.71 883.20 L1124.71 883.63 L1125.72 884.05 L1126.72 884.46 L1127.72 884.87 L1128.73 885.28 L1129.73 885.67 L1130.73 886.05 L1131.74 886.42 L1132.74 886.78 L1133.74 887.12 L1134.75 887.45 L1135.75 887.77 L1136.75 888.07 L1137.76 888.35 L1138.76 888.61 L1139.76 888.86 L1140.77 889.09 L1141.77 889.30 L1142.77 889.48 L1143.78 889.65 L1144.78 889.79 L1145.78 889.92 L1146.79 890.02 L1147.79 890.10 L1148.79 890.15 L1149.80 890.19 L1150.80 890.20 L1151.80 890.19 L1152.81 890.14 L1153.81 890.08 L1154.81 889.98 L1155.81 889.85 L1156.82 889.70 L1157.82 889.52 L1158.82 889.32 L1159.82 889.09 L1160.83 888.83 L1161.83 888.55 L1162.83 888.24 L1163.84 887.91 L1164.84 887.56 L1165.84 887.18 L1166.84 886.78 L1167.85 886.36 L1168.85 885.92 L1169.85 885.46 L1170.85 884.98 L1171.86 884.48 L1172.86 883.96 L1173.86 883.43 L1174.87 882.89 L1175.87 882.32 L1176.87 881.75 L1177.87 881.16 L1178.88 880.57 L1179.88 879.96 L1180.88 879.34 L1181.88 878.72 L1182.89 878.09 L1183.89 877.45 L1184.89 876.81 L1185.90 876.17 L1186.90 875.52 L1187.90 874.88 L1188.90 874.23 L1189.91 873.59 L1190.91 872.95 L1191.91 872.31 L1192.92 871.68 L1193.92 871.06 L1194.92 870.44 L1195.92 869.83 L1196.93 869.24 L1197.93 868.65 L1198.93 868.08 L1199.93 867.51 L1200.94 866.97 L1201.94 866.44 L1202.94 865.92 L1203.95 865.42 L1204.95 864.94 L1205.95 864.48 L1206.95 864.04 L1207.96 863.62 L1208.96 863.22 L1209.96 862.84 L1210.96 862.49 L1211.97 862.16 L1212.97 861.85 L1213.97 861.57 L1214.98 861.31 L1215.98 861.08 L1216.98 860.88 L1217.98 860.70 L1218.99 860.55 L1219.99 860.42 L1220.99 860.32 L1221.99 860.26 L1223.00 860.21 L1224.00 860.20 L1225.01 860.22 L1226.02 860.28 L1227.02 860.37 L1228.03 860.50 L1229.04 860.67 L1230.05 860.88 L1231.05 861.13 L1232.06 861.41 L1233.07 861.72 L1234.08 862.08 L1235.08 862.46 L1236.09 862.89 L1237.10 863.34 L1238.11 863.83 L1239.11 864.35 L1240.12 864.91 L1241.13 865.49 L1242.14 866.10 L1243.14 866.74 L1244.15 867.41 L1245.16 868.11 L1246.17 868.83 L1247.17 869.58 L1248.18 870.35 L1249.19 871.14 L1250.20 871.95 L1251.21 872.78 L1252.21 873.63 L1253.22 874.50 L1254.23 875.38 L1255.24 876.27 L1256.24 877.18 L1257.25 878.10 L1258.26 879.03 L1259.27 879.97 L1260.27 880.91 L1261.28 881.86 L1262.29 882.82 L1263.30 883.77 L1264.30 884.73 L1265.31 885.68 L1266.32 886.64 L1267.33 887.59 L1268.33 888.53 L1269.34 889.47 L1270.35 890.40 L1271.36 891.32 L1272.36 892.23 L1273.37 893.12 L1274.38 894.00 L1275.39 894.87 L1276.39 895.72 L1277.40 896.55 L1278.41 897.36 L1279.42 898.15 L1280.43 898.92 L1281.43 899.67 L1282.44 900.39 L1283.45 901.09 L1284.46 901.76 L1285.46 902.40 L1286.47 903.01 L1287.48 903.59 L1288.49 904.15 L1289.49 904.67 L1290.50 905.16 L1291.51 905.61 L1292.52 906.04 L1293.52 906.42 L1294.53 906.78 L1295.54 907.09 L1296.55 907.37 L1297.55 907.62 L1298.56 907.83 L1299.57 908.00 L1300.58 908.13 L1301.58 908.22 L1302.59 908.28 L1303.60 908.30 L1304.60 908.27 L1305.61 908.20 L1306.61 908.07 L1307.62 907.89 L1308.62 907.66 L1309.63 907.39 L1310.63 907.06 L1311.64 906.68 L1312.64 906.26 L1313.65 905.78 L1314.65 905.26 L1315.66 904.69 L1316.66 904.08 L1317.67 903.42 L1318.67 902.72 L1319.68 901.98 L1320.68 901.19 L1321.69 900.37 L1322.69 899.50 L1323.70 898.60 L1324.70 897.66 L1325.71 896.69 L1326.71 895.68 L1327.72 894.64 L1328.72 893.57 L1329.73 892.48 L1330.73 891.35 L1331.74 890.20 L1332.74 889.02 L1333.75 887.83 L1334.75 886.61 L1335.76 885.37 L1336.76 884.12 L1337.77 882.86 L1338.77 881.58 L1339.78 880.29 L1340.78 878.99 L1341.79 877.68 L1342.79 876.37 L1343.80 875.06 L1344.80 873.74 L1345.81 872.43 L1346.81 871.12 L1347.82 869.81 L1348.82 868.51 L1349.83 867.22 L1350.83 865.94 L1351.84 864.68 L1352.84 863.43 L1353.85 862.19 L1354.85 860.97 L1355.86 859.78 L1356.86 858.60 L1357.87 857.45 L1358.87 856.32 L1359.88 855.23 L1360.88 854.16 L1361.89 853.12 L1362.89 852.11 L1363.90 851.14 L1364.70 850.38" fill="none" stroke="#0000ff" stroke-width="6.4" stroke-dasharray="6.2 4.6" stroke-linejoin="miter" stroke-linecap="butt"/><g font-family="Liberation Sans, sans-serif" font-size="45.6" fill="#262626"><text transform="translate(196.50,380.10) scale(0.923,1)" text-anchor="middle">0</text><text transform="translate(392.00,380.10) scale(0.923,1)" text-anchor="middle">20</text><text transform="translate(588.00,380.10) scale(0.923,1)" text-anchor="middle">40</text><text transform="translate(783.00,380.10) scale(0.923,1)" text-anchor="middle">60</text><text transform="translate(978.50,380.10) scale(0.923,1)" text-anchor="middle">80</text><text transform="translate(1173.00,380.10) scale(0.923,1)" text-anchor="middle">100</text><text transform="translate(1368.50,380.10) scale(0.923,1)" text-anchor="middle">120</text><text transform="translate(196.50,719.50) scale(0.923,1)" text-anchor="middle">0</text><text transform="translate(392.00,719.50) scale(0.923,1)" text-anchor="middle">20</text><text transform="translate(588.00,719.50) scale(0.923,1)" text-anchor="middle">40</text><text transform="translate(783.00,719.50) scale(0.923,1)" text-anchor="middle">60</text><text transform="translate(978.50,719.50) scale(0.923,1)" text-anchor="middle">80</text><text transform="translate(1173.00,719.50) scale(0.923,1)" text-anchor="middle">100</text><text transform="translate(1368.50,719.50) scale(0.923,1)" text-anchor="middle">120</text><text transform="translate(196.50,1060.90) scale(0.923,1)" text-anchor="middle">0</text><text transform="translate(392.00,1060.90) scale(0.923,1)" text-anchor="middle">20</text><text transform="translate(588.00,1060.90) scale(0.923,1)" text-anchor="middle">40</text><text transform="translate(783.00,1060.90) scale(0.923,1)" text-anchor="middle">60</text><text transform="translate(978.50,1060.90) scale(0.923,1)" text-anchor="middle">80</text><text transform="translate(1173.00,1060.90) scale(0.923,1)" text-anchor="middle">100</text><text transform="translate(1368.50,1060.90) scale(0.923,1)" text-anchor="middle">120</text><text transform="translate(180.50,102.75) scale(0.923,1)" text-anchor="end">50</text><text transform="translate(180.50,335.25) scale(0.923,1)" text-anchor="end">0</text><text transform="translate(180.50,441.25) scale(1.0,1)" text-anchor="end">2</text><text transform="translate(180.50,558.25) scale(0.923,1)" text-anchor="end">0</text><text transform="translate(180.50,675.75) scale(1.0,1)" text-anchor="end">2</text><text transform="translate(180.50,782.00) scale(0.923,1)" text-anchor="end">10</text><text transform="translate(180.50,899.00) scale(0.923,1)" text-anchor="end">0</text><text transform="translate(180.50,1016.50) scale(0.923,1)" text-anchor="end">10</text></g><rect x="123" y="659.1" width="20.9" height="2.7" fill="#262626"/><rect x="98.3" y="998.9" width="20.7" height="2.7" fill="#262626"/><g font-family="Liberation Serif, serif" font-size="48" fill="#262626"><text transform="translate(110,201.5) rotate(-90)" text-anchor="middle" letter-spacing="0.6"><tspan font-style="italic">Tu</tspan> /N</text><text transform="translate(99,540.5) rotate(-90)" text-anchor="middle"><tspan font-style="italic">Tp</tspan> /(N.m)</text><text transform="translate(75,880) rotate(-90)" text-anchor="middle"><tspan font-style="italic">Tr</tspan><tspan dx="5"> /(N.m)</tspan></text><text x="782" y="1123" font-size="49" text-anchor="middle">time /s</text></g><rect x="426" y="44.5" width="109" height="7" fill="#ff0000"/><path d="M787.9 48.4 L892 48.4" stroke="#0000ff" stroke-width="7" stroke-dasharray="6 4.8"/><g font-family="Liberation Serif, serif" font-size="57" fill="#000" stroke="#000" stroke-width="0.3"><text x="541" y="74">Method 1</text><text x="903.5" y="74">Method 2</text></g></svg></body></html>
